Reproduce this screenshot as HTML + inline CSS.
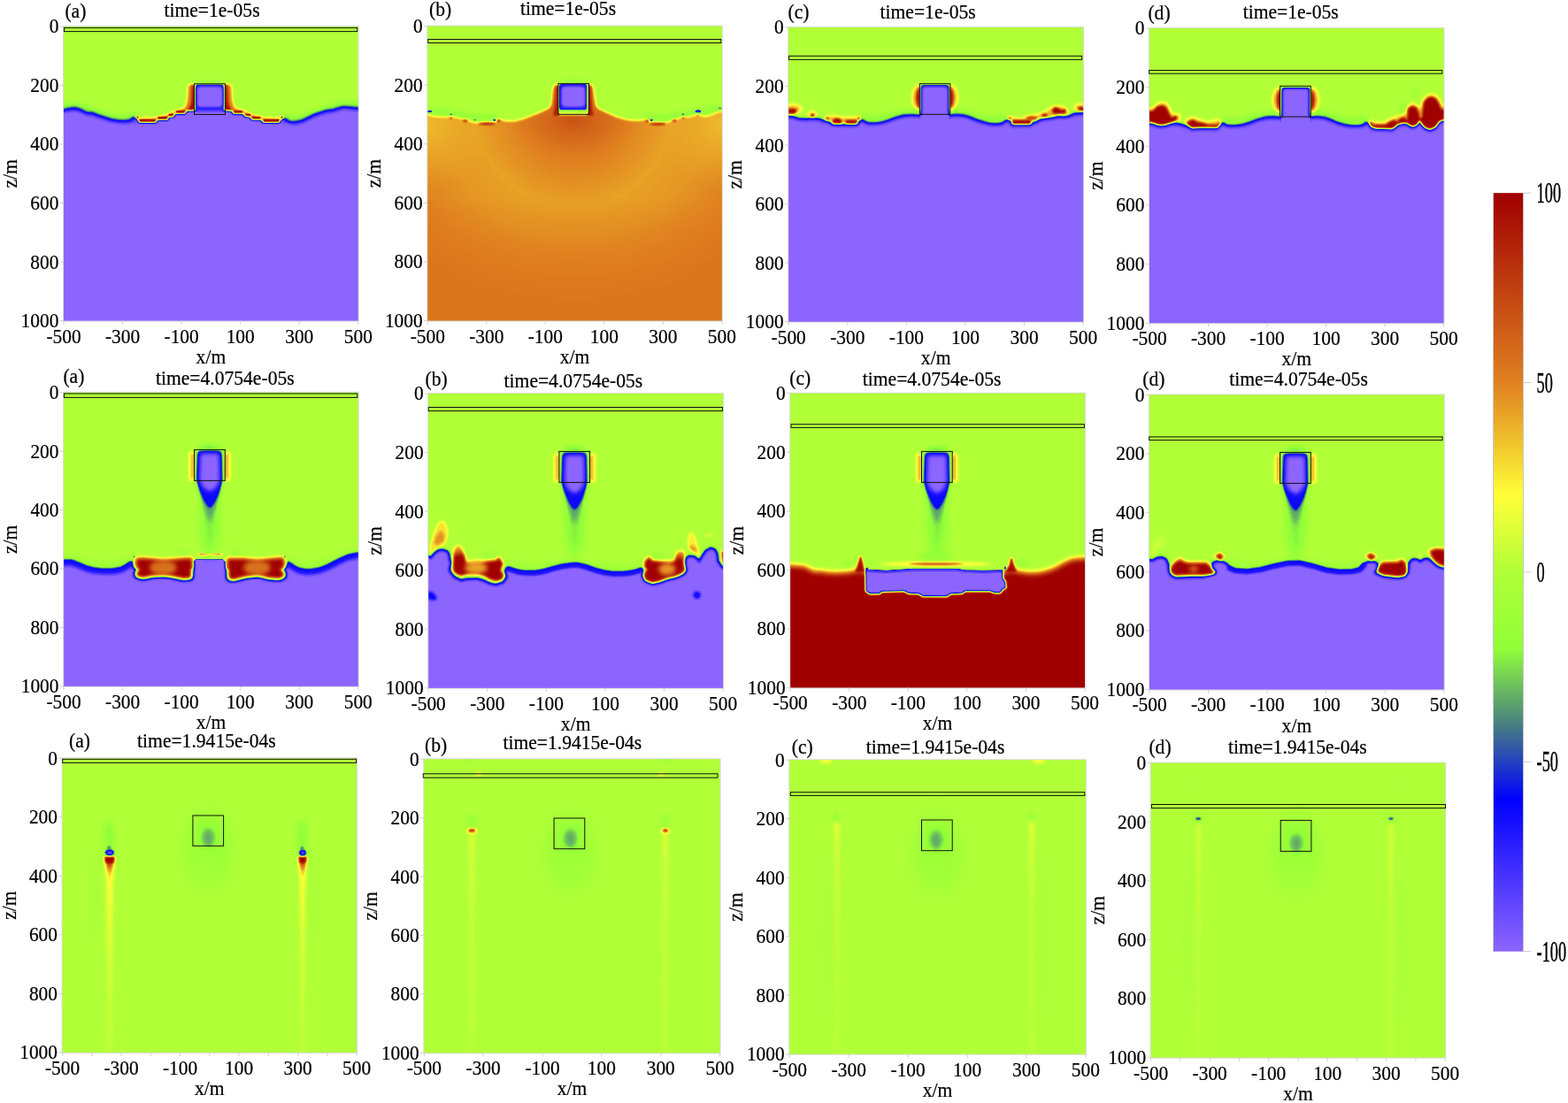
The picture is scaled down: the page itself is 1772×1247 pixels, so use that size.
<!DOCTYPE html>
<html lang="en"><head><meta charset="utf-8"><title>Figure</title>
<style>html,body{margin:0;padding:0;background:#fff;overflow:hidden}svg{display:block}text{font-family:"Liberation Serif",serif;fill:#000;stroke:#000;stroke-width:0.22px}.t{font-size:21.4px}.h{font-size:21.6px}.c{font-size:33px;stroke:#000;stroke-width:0.5px}</style></head><body>
<svg width="1772" height="1247" viewBox="0 0 1772 1247" role="img" aria-label="Twelve panel field snapshots with colour bar">
<defs>
<filter id="cm" filterUnits="userSpaceOnUse" x="0" y="0" width="1772" height="1247" color-interpolation-filters="sRGB"><feComponentTransfer><feFuncR type="table" tableValues="0.5529 0.4147 0.2765 0.1382 0.0000 0.1412 0.2824 0.4235 0.5647 0.6275 0.6902 0.8451 1.0000 0.9595 0.9190 0.8784 0.8282 0.7780 0.7278 0.6776 0.6275"/><feFuncG type="table" tableValues="0.3961 0.2971 0.1980 0.0990 0.0000 0.2510 0.5020 0.7510 1.0000 1.0000 1.0000 1.0000 1.0000 0.8340 0.6680 0.5020 0.4016 0.3012 0.2008 0.1004 0.0000"/><feFuncB type="table" tableValues="1.0000 1.0000 1.0000 1.0000 1.0000 0.7510 0.5020 0.3608 0.2196 0.2196 0.2196 0.2196 0.2196 0.1882 0.1569 0.1255 0.1004 0.0753 0.0502 0.0251 0.0000"/></feComponentTransfer></filter>
<filter id="bl28" filterUnits="userSpaceOnUse" x="-2000" y="-2000" width="12000" height="12000" color-interpolation-filters="sRGB"><feGaussianBlur stdDeviation="28"/></filter><filter id="bl8" filterUnits="userSpaceOnUse" x="-2000" y="-2000" width="12000" height="12000" color-interpolation-filters="sRGB"><feGaussianBlur stdDeviation="8"/></filter><filter id="bl16" filterUnits="userSpaceOnUse" x="-2000" y="-2000" width="12000" height="12000" color-interpolation-filters="sRGB"><feGaussianBlur stdDeviation="16"/></filter><filter id="bl10" filterUnits="userSpaceOnUse" x="-2000" y="-2000" width="12000" height="12000" color-interpolation-filters="sRGB"><feGaussianBlur stdDeviation="10"/></filter><filter id="bl18" filterUnits="userSpaceOnUse" x="-2000" y="-2000" width="12000" height="12000" color-interpolation-filters="sRGB"><feGaussianBlur stdDeviation="18"/></filter><filter id="bl7" filterUnits="userSpaceOnUse" x="-2000" y="-2000" width="12000" height="12000" color-interpolation-filters="sRGB"><feGaussianBlur stdDeviation="7"/></filter><filter id="bl12" filterUnits="userSpaceOnUse" x="-2000" y="-2000" width="12000" height="12000" color-interpolation-filters="sRGB"><feGaussianBlur stdDeviation="12"/></filter><filter id="bl4" filterUnits="userSpaceOnUse" x="-2000" y="-2000" width="12000" height="12000" color-interpolation-filters="sRGB"><feGaussianBlur stdDeviation="4"/></filter><filter id="bl6" filterUnits="userSpaceOnUse" x="-2000" y="-2000" width="12000" height="12000" color-interpolation-filters="sRGB"><feGaussianBlur stdDeviation="6"/></filter><filter id="bl11" filterUnits="userSpaceOnUse" x="-2000" y="-2000" width="12000" height="12000" color-interpolation-filters="sRGB"><feGaussianBlur stdDeviation="11"/></filter><filter id="bl9" filterUnits="userSpaceOnUse" x="-2000" y="-2000" width="12000" height="12000" color-interpolation-filters="sRGB"><feGaussianBlur stdDeviation="9"/></filter><filter id="bl26" filterUnits="userSpaceOnUse" x="-2000" y="-2000" width="12000" height="12000" color-interpolation-filters="sRGB"><feGaussianBlur stdDeviation="26"/></filter><filter id="bl15" filterUnits="userSpaceOnUse" x="-2000" y="-2000" width="12000" height="12000" color-interpolation-filters="sRGB"><feGaussianBlur stdDeviation="15"/></filter><filter id="bl13" filterUnits="userSpaceOnUse" x="-2000" y="-2000" width="12000" height="12000" color-interpolation-filters="sRGB"><feGaussianBlur stdDeviation="13"/></filter><filter id="bl20" filterUnits="userSpaceOnUse" x="-2000" y="-2000" width="12000" height="12000" color-interpolation-filters="sRGB"><feGaussianBlur stdDeviation="20"/></filter><filter id="bl14" filterUnits="userSpaceOnUse" x="-2000" y="-2000" width="12000" height="12000" color-interpolation-filters="sRGB"><feGaussianBlur stdDeviation="14"/></filter><filter id="bl5" filterUnits="userSpaceOnUse" x="-2000" y="-2000" width="12000" height="12000" color-interpolation-filters="sRGB"><feGaussianBlur stdDeviation="5"/></filter><filter id="bl30" filterUnits="userSpaceOnUse" x="-2000" y="-2000" width="12000" height="12000" color-interpolation-filters="sRGB"><feGaussianBlur stdDeviation="30"/></filter><filter id="bl19" filterUnits="userSpaceOnUse" x="-2000" y="-2000" width="12000" height="12000" color-interpolation-filters="sRGB"><feGaussianBlur stdDeviation="19"/></filter><filter id="bl40" filterUnits="userSpaceOnUse" x="-2000" y="-2000" width="12000" height="12000" color-interpolation-filters="sRGB"><feGaussianBlur stdDeviation="40"/></filter><filter id="bl22" filterUnits="userSpaceOnUse" x="-2000" y="-2000" width="12000" height="12000" color-interpolation-filters="sRGB"><feGaussianBlur stdDeviation="22"/></filter><filter id="bl17" filterUnits="userSpaceOnUse" x="-2000" y="-2000" width="12000" height="12000" color-interpolation-filters="sRGB"><feGaussianBlur stdDeviation="17"/></filter><filter id="bl24" filterUnits="userSpaceOnUse" x="-2000" y="-2000" width="12000" height="12000" color-interpolation-filters="sRGB"><feGaussianBlur stdDeviation="24"/></filter><filter id="bl3_2" filterUnits="userSpaceOnUse" x="-2000" y="-2000" width="12000" height="12000" color-interpolation-filters="sRGB"><feGaussianBlur stdDeviation="3.2"/></filter><filter id="bl3_5" filterUnits="userSpaceOnUse" x="-2000" y="-2000" width="12000" height="12000" color-interpolation-filters="sRGB"><feGaussianBlur stdDeviation="3.5"/></filter><filter id="bl2_1" filterUnits="userSpaceOnUse" x="-2000" y="-2000" width="12000" height="12000" color-interpolation-filters="sRGB"><feGaussianBlur stdDeviation="2.1"/></filter><filter id="bl1_3" filterUnits="userSpaceOnUse" x="-2000" y="-2000" width="12000" height="12000" color-interpolation-filters="sRGB"><feGaussianBlur stdDeviation="1.3"/></filter><filter id="bl1_0" filterUnits="userSpaceOnUse" x="-2000" y="-2000" width="12000" height="12000" color-interpolation-filters="sRGB"><feGaussianBlur stdDeviation="1.0"/></filter><filter id="bl1_2" filterUnits="userSpaceOnUse" x="-2000" y="-2000" width="12000" height="12000" color-interpolation-filters="sRGB"><feGaussianBlur stdDeviation="1.2"/></filter><filter id="bl2_5" filterUnits="userSpaceOnUse" x="-2000" y="-2000" width="12000" height="12000" color-interpolation-filters="sRGB"><feGaussianBlur stdDeviation="2.5"/></filter><filter id="bl1_6" filterUnits="userSpaceOnUse" x="-2000" y="-2000" width="12000" height="12000" color-interpolation-filters="sRGB"><feGaussianBlur stdDeviation="1.6"/></filter><filter id="bl2_4" filterUnits="userSpaceOnUse" x="-2000" y="-2000" width="12000" height="12000" color-interpolation-filters="sRGB"><feGaussianBlur stdDeviation="2.4"/></filter><filter id="bl1_7" filterUnits="userSpaceOnUse" x="-2000" y="-2000" width="12000" height="12000" color-interpolation-filters="sRGB"><feGaussianBlur stdDeviation="1.7"/></filter><filter id="bl2_2" filterUnits="userSpaceOnUse" x="-2000" y="-2000" width="12000" height="12000" color-interpolation-filters="sRGB"><feGaussianBlur stdDeviation="2.2"/></filter><filter id="bl2_6" filterUnits="userSpaceOnUse" x="-2000" y="-2000" width="12000" height="12000" color-interpolation-filters="sRGB"><feGaussianBlur stdDeviation="2.6"/></filter><filter id="bl3" filterUnits="userSpaceOnUse" x="-2000" y="-2000" width="12000" height="12000" color-interpolation-filters="sRGB"><feGaussianBlur stdDeviation="3"/></filter><filter id="bl0_8" filterUnits="userSpaceOnUse" x="-2000" y="-2000" width="12000" height="12000" color-interpolation-filters="sRGB"><feGaussianBlur stdDeviation="0.8"/></filter>
<linearGradient id="cb" x1="0" y1="0" x2="0" y2="1"><stop offset="0.000" stop-color="#a00000"/> <stop offset="0.250" stop-color="#e08020"/> <stop offset="0.400" stop-color="#ffff38"/> <stop offset="0.500" stop-color="#b0ff38"/> <stop offset="0.600" stop-color="#90ff38"/> <stop offset="0.700" stop-color="#488080"/> <stop offset="0.800" stop-color="#0000ff"/> <stop offset="1.000" stop-color="#8d65ff"/></linearGradient>
<clipPath id="cpa1"><rect x="72" y="30" width="332.8" height="332.65"/></clipPath>
<clipPath id="cpb1"><rect x="483.3" y="29.6" width="332.55" height="333"/></clipPath>
<clipPath id="cpc1"><rect x="891.2" y="31" width="332.9" height="332.75"/></clipPath>
<clipPath id="cpd1"><rect x="1299" y="32" width="332.55" height="333.25"/></clipPath>
<clipPath id="cpa2"><rect x="72.1" y="443.7" width="332.65" height="332.2"/></clipPath>
<clipPath id="cpb2"><rect x="484.2" y="445" width="332.9" height="332.85"/></clipPath>
<clipPath id="cpc2"><rect x="893.2" y="444.7" width="332.8" height="332.75"/></clipPath>
<clipPath id="cpd2"><rect x="1299" y="446.4" width="332.8" height="333.15"/></clipPath>
<clipPath id="cpa3"><rect x="70.6" y="857.3" width="332.45" height="332.6"/></clipPath>
<clipPath id="cpb3"><rect x="479.3" y="858.3" width="334.3" height="332.05"/></clipPath>
<clipPath id="cpc3"><rect x="892.3" y="859.2" width="334.6" height="332.5"/></clipPath>
<clipPath id="cpd3"><rect x="1300.7" y="862.6" width="332.45" height="333.05"/></clipPath>
</defs>
<rect width="1772" height="1247" fill="#fff"/>
<g filter="url(#cm)">
<g clip-path="url(#cpa1)">
<rect x="70" y="28" width="336.8" height="336.65" fill="#808080"/>
<g transform="translate(60 80) scale(0.101581)">
<g filter="url(#bl28)">
<path d="M60 420 L240 395 L420 450 L640 520 L820 540 L920 500" fill="none" stroke="#616161" stroke-width="80"/>
<path d="M2560 520 L2700 555 L2860 500 L3060 425 L3240 380 L3440 395" fill="none" stroke="#616161" stroke-width="80"/>
<ellipse cx="1742" cy="120" rx="120" ry="22" fill="#6e6e6e"/>
</g>
<g filter="url(#bl8)">
<path d="M60 474 L120 471 L180 456 L240 446 L300 466 L370 501 L430 503 L500 531 L560 551 L640 576 L720 589 L800 593 L860 584 L900 560 L915 534" fill="none" transform="translate(0 -8)" stroke="#2b2b2b" stroke-width="72" stroke-linejoin="round"/>
<path d="M2563 560 L2590 582 L2623 601 L2693 606 L2773 589 L2853 551 L2913 521 L2973 501 L3053 476 L3113 471 L3173 451 L3233 436 L3293 441 L3393 451 L3450 454" fill="none" transform="translate(0 -8)" stroke="#2b2b2b" stroke-width="72" stroke-linejoin="round"/>
</g>
<g filter="url(#bl16)">
<path transform="translate(0 -14)" d="M0 480 L120 476 L180 462 L240 453 L300 472 L370 506 L430 509 L500 536 L560 556 L640 581 L720 594 L800 598 L860 590 L930 568 V2900 H0Z" fill="#000000"/>
<path transform="translate(0 -14)" d="M2550 568 L2623 604 L2693 610 L2773 594 L2853 556 L2913 526 L2973 506 L3053 481 L3113 476 L3173 456 L3233 441 L3293 446 L3393 456 L3460 458 V2900 H2550Z" fill="#000000"/>
</g>
<rect x="0" y="650" width="3500" height="2300" fill="#000000"/>
<g filter="url(#bl10)"><rect x="870" y="600" width="110" height="120" fill="#000000"/><rect x="2500" y="600" width="110" height="120" fill="#000000"/></g>
<g filter="url(#bl18)">
<path d="M925 525 L960 528 L1150 522 L1280 484 L1360 448 L1465 410 L1492 330 L1502 160 L1570 150 L1570 600 L925 600Z" fill="#c2c2c2"/>
<path d="M2558 525 L2520 528 L2335 522 L2205 484 L2125 448 L2020 410 L1993 330 L1983 160 L1914 150 L1914 600 L2558 600Z" fill="#c2c2c2"/>
</g>
<g filter="url(#bl7)">
<circle cx="937" cy="517" r="12" fill="#ffffff"/>
<rect x="960" y="540" width="182" height="45" fill="#ffffff"/>
<rect x="1165" y="510" width="108" height="45" fill="#ffffff"/>
<rect x="1288" y="478" width="54" height="42" fill="#ffffff"/>
<rect x="1370" y="443" width="100" height="42" fill="#ffffff"/>
<circle cx="2546" cy="517" r="12" fill="#ffffff"/>
<rect x="2341" y="540" width="174" height="45" fill="#ffffff"/>
<rect x="2211" y="510" width="94" height="45" fill="#ffffff"/>
<rect x="2142" y="478" width="52" height="42" fill="#ffffff"/>
<rect x="2013" y="443" width="92" height="42" fill="#ffffff"/>
</g>
<g filter="url(#bl12)">
<path d="M1492 452 L1500 425 Q1536 400 1540 330 L1546 160 L1574 150 V452Z" fill="#ffffff"/>
<path d="M1991 452 L1983 425 Q1947 400 1943 330 L1937 160 L1910 150 V452Z" fill="#ffffff"/>
</g>
<rect x="1576" y="146" width="332" height="320" fill="#737373" filter="url(#bl4)"/>
<rect x="1586" y="153" width="310" height="300" rx="34" fill="#292929" filter="url(#bl6)"/>
<rect x="1602" y="176" width="280" height="228" rx="40" fill="#000000" filter="url(#bl11)"/>
<path filter="url(#bl9)" d="M905 522 L940 547 L955 577 L1145 577 L1160 547 L1275 547 L1290 513 L1341 513 L1357 477 L1469 477 L1491 443 L1570 443 L1913 443 L1983 443 L2003 477 L2113 477 L2133 510 L2188 510 L2208 543 L2313 543 L2333 577 L2518 577 L2533 548 L2575 524 V2900 H905Z" fill="#000000"/>
</g>
</g>
<g clip-path="url(#cpb1)">
<rect x="481.3" y="27.6" width="336.55" height="337" fill="#808080"/>
<g transform="translate(470 80) scale(0.101581)">
<defs>
<path id="b1p" d="M0 485 L130 490 L200 510 L300 520 L380 512 L450 522 L520 537 L600 562 L640 577 L700 580 L800 574 L890 574 L920 542 L950 547 L1000 562 L1100 562 L1200 537 L1300 497 L1400 457 L1476 422 L1508 380 L1524 200 L1550 156 L1578 146 L1578 492 L1926 492 L1926 146 L1954 156 L1974 200 L1998 380 L2025 422 L2123 467 L2223 512 L2323 542 L2423 557 L2523 552 L2553 542 L2573 552 L2603 577 L2673 582 L2773 577 L2823 572 L2853 547 L2923 532 L2973 517 L3053 512 L3123 492 L3173 502 L3233 512 L3293 492 L3353 462 L3403 452 L3460 450 V2900 H0 Z"/>
<radialGradient id="b1g1" gradientUnits="userSpaceOnUse" cx="1752" cy="540" r="440" gradientTransform="translate(1752 540) scale(1.6 1) translate(-1752 -540)">
<stop offset="0" stop-color="#dbdbdb" stop-opacity="0.85"/><stop offset="0.4" stop-color="#d6d6d6" stop-opacity="0.45"/><stop offset="1" stop-color="#cccccc" stop-opacity="0"/>
</radialGradient>
<radialGradient id="b1g2" gradientUnits="userSpaceOnUse" cx="1752" cy="400" r="2300">
<stop offset="0.18" stop-color="#b5b5b5" stop-opacity="0"/><stop offset="0.48" stop-color="#b5b5b5" stop-opacity="1"/><stop offset="0.64" stop-color="#b6b6b6" stop-opacity="0.85"/><stop offset="1" stop-color="#b8b8b8" stop-opacity="0"/>
</radialGradient>
<radialGradient id="b1g3" gradientUnits="userSpaceOnUse" cx="130" cy="620" r="700">
<stop offset="0" stop-color="#adadad"/><stop offset="1" stop-color="#b2b2b2" stop-opacity="0"/>
</radialGradient>
<radialGradient id="b1g4" gradientUnits="userSpaceOnUse" cx="3404" cy="620" r="700">
<stop offset="0" stop-color="#adadad"/><stop offset="1" stop-color="#b2b2b2" stop-opacity="0"/>
</radialGradient>
<linearGradient id="b1g5" gradientUnits="userSpaceOnUse" x1="0" y1="1400" x2="0" y2="2786">
<stop offset="0" stop-color="#c4c4c4" stop-opacity="0"/><stop offset="1" stop-color="#c4c4c4" stop-opacity="0.9"/>
</linearGradient>
</defs>
<g filter="url(#bl26)">
<path d="M130 440 L400 470 L650 520 L900 520" fill="none" stroke="#666666" stroke-width="60"/>
<path d="M2560 520 L2800 520 L3100 460 L3404 410" fill="none" stroke="#666666" stroke-width="60"/>
<ellipse cx="1752" cy="122" rx="140" ry="22" fill="#666666"/>
</g>
<g filter="url(#bl15)">
<use href="#b1p" fill="#c3c3c3"/>
<use href="#b1p" fill="url(#b1g2)"/>
<use href="#b1p" fill="url(#b1g5)"/>
<use href="#b1p" fill="url(#b1g3)"/>
<use href="#b1p" fill="url(#b1g4)"/>
<use href="#b1p" fill="url(#b1g1)"/>
</g>
<g filter="url(#bl9)">
<path d="M1556 175 L1596 160 V500 H1530 Q1548 400 1552 300Z" fill="#f2f2f2"/>
<path d="M1948 175 L1908 160 V500 H1974 Q1956 400 1952 300Z" fill="#f2f2f2"/>
</g>
<g filter="url(#bl9)">
<ellipse cx="390" cy="527" rx="16" ry="10" fill="#e3e3e3"/>
<ellipse cx="550" cy="556" rx="26" ry="13" fill="#f0f0f0"/>
<ellipse cx="920" cy="556" rx="16" ry="14" fill="#f0f0f0"/>
<ellipse cx="790" cy="590" rx="95" ry="11" fill="#fafafa"/>
<ellipse cx="2573" cy="557" rx="16" ry="16" fill="#f2f2f2"/>
<ellipse cx="2690" cy="592" rx="85" ry="11" fill="#fafafa"/>
<ellipse cx="2875" cy="556" rx="22" ry="13" fill="#e6e6e6"/>
<ellipse cx="2973" cy="527" rx="16" ry="10" fill="#e0e0e0"/>
<ellipse cx="3138" cy="497" rx="14" ry="10" fill="#d9d9d9"/>
</g>
<g filter="url(#bl7)">
<ellipse cx="150" cy="451" rx="32" ry="11" fill="#262626"/>
<ellipse cx="390" cy="485" rx="12" ry="8" fill="#393939"/>
<ellipse cx="655" cy="548" rx="12" ry="8" fill="#404040"/>
<ellipse cx="875" cy="548" rx="16" ry="10" fill="#2b2b2b"/>
<ellipse cx="2620" cy="548" rx="17" ry="10" fill="#2b2b2b"/>
<ellipse cx="2973" cy="485" rx="12" ry="8" fill="#393939"/>
<ellipse cx="3140" cy="451" rx="32" ry="15" fill="#242424"/>
<ellipse cx="3385" cy="416" rx="22" ry="7" fill="#464646"/>
</g>
<rect x="1586" y="146" width="332" height="318" fill="#707070" filter="url(#bl4)"/>
<rect x="1586" y="454" width="332" height="22" fill="#919191" filter="url(#bl8)"/>
<rect x="1596" y="146" width="306" height="290" rx="36" fill="#262626" filter="url(#bl6)"/>
<rect x="1620" y="174" width="262" height="228" rx="44" fill="#000000" filter="url(#bl13)"/>
</g>
</g>
<g clip-path="url(#cpc1)">
<rect x="889.2" y="29" width="336.9" height="336.75" fill="#808080"/>
<g transform="translate(880 80) scale(0.101581)">
<defs>
<path id="c1l" d="M0 505 L110 508 L160 513 L220 533 L300 538 L380 533 L450 538 L500 558 L560 573 L590 593 L650 601 L740 598 L800 603 L870 601 L900 573 L925 548 L950 568 L1000 583 L1080 585 L1160 573 L1240 548 L1320 518 L1400 498 L1480 493 L1580 498"/>
<path id="c1r" d="M1895 498 L1973 491 L2053 498 L2123 518 L2193 548 L2273 573 L2353 591 L2433 593 L2493 583 L2533 558 L2553 548 L2573 580 L2593 603 L2803 603 L2823 583 L2873 568 L2913 543 L2973 533 L3053 523 L3113 508 L3173 513 L3233 503 L3293 478 L3388 473 L3460 470"/>
</defs>
<g filter="url(#bl26)">
<path d="M930 520 L1100 540 L1300 490 L1560 450" fill="none" stroke="#636363" stroke-width="60"/>
<path d="M1915 450 L2100 480 L2300 540 L2530 520" fill="none" stroke="#636363" stroke-width="60"/>
</g>
<g filter="url(#bl20)">
<ellipse cx="160" cy="425" rx="95" ry="50" fill="#b0b0b0"/>
<ellipse cx="375" cy="482" rx="55" ry="26" fill="#adadad"/>
<path d="M520 520 L600 500 L700 520 L880 520 L900 600 L520 600Z" fill="#b2b2b2"/>
<path d="M1568 148 C1462 200 1462 400 1568 450Z" fill="#b8b8b8"/>
<path d="M1906 148 C2012 200 2012 400 1906 450Z" fill="#b8b8b8"/>
<path d="M2560 520 L2700 535 L2780 500 L2880 490 L2960 460 L3040 400 L3150 390 L3220 450 L3220 520 L2560 620Z" fill="#b2b2b2"/>
<ellipse cx="3350" cy="405" rx="65" ry="35" fill="#b0b0b0"/>
</g>
<g filter="url(#bl8)">
<use href="#c1l" transform="translate(0 22)" fill="none" stroke="#2b2b2b" stroke-width="70" stroke-linejoin="round"/>
<use href="#c1r" transform="translate(0 22)" fill="none" stroke="#2b2b2b" stroke-width="70" stroke-linejoin="round"/>
</g>
<g filter="url(#bl14)">
<path transform="translate(0 -11)" d="M0 535 L110 538 L160 543 L220 563 L300 568 L380 563 L450 568 L500 588 L560 603 L590 623 L650 631 L740 628 L800 633 L870 631 L900 603 L925 578 L950 598 L1000 613 L1080 615 L1160 603 L1240 578 L1320 548 L1400 528 L1480 523 L1580 528 L1895 528 L1973 521 L2053 528 L2123 548 L2193 578 L2273 603 L2353 621 L2433 623 L2493 613 L2533 588 L2553 578 L2573 610 L2593 633 L2803 633 L2823 613 L2873 598 L2913 573 L2973 563 L3053 553 L3113 538 L3173 543 L3233 533 L3293 508 L3388 503 L3460 500 V2900 H0Z" fill="#000000"/>
</g>
<rect x="0" y="680" width="3500" height="2300" fill="#000000"/>
<g filter="url(#bl8)">
<path d="M100 425 L150 418 L195 428 L200 455 L170 478 L100 480Z" fill="#fcfcfc"/>
<ellipse cx="375" cy="497" rx="24" ry="16" fill="#fafafa"/>
<circle cx="540" cy="530" r="15" fill="#fcfcfc"/>
<path d="M605 545 L650 528 L695 545 L700 585 L600 585Z" fill="#ffffff"/>
<rect x="745" y="550" width="128" height="36" rx="8" fill="#ffffff"/>
<circle cx="893" cy="528" r="15" fill="#fcfcfc"/>
<path d="M1570 170 C1520 225 1520 375 1570 428Z" fill="#ffffff"/>
<path d="M1904 170 C1954 225 1954 375 1904 428Z" fill="#ffffff"/>
<circle cx="2568" cy="528" r="15" fill="#fcfcfc"/>
<rect x="2600" y="550" width="205" height="40" rx="8" fill="#ffffff"/>
<ellipse cx="2813" cy="524" rx="60" ry="18" fill="#dedede"/>
<ellipse cx="2958" cy="494" rx="32" ry="16" fill="#f5f5f5"/>
<path d="M3040 440 L3075 405 L3120 420 L3150 440 L3185 420 L3195 470 L3060 478Z" fill="#ffffff"/>
<path d="M3325 415 L3360 400 L3410 410 L3410 445 L3340 440Z" fill="#fafafa"/>
</g>
<rect x="1572" y="150" width="330" height="300" fill="#707070" filter="url(#bl4)"/>
<path d="M1570 540 L1581 430 V190 Q1581 160 1611 160 H1865 Q1895 160 1895 190 V430 L1906 540Z" fill="#292929" filter="url(#bl5)"/>
<path d="M1588 600 L1598 440 V212 Q1598 179 1631 179 H1845 Q1878 179 1878 212 V440 L1888 600Z" fill="#000000" filter="url(#bl9)"/>
<rect id="c1fix" x="1574" y="498" width="326" height="130" fill="#000000" filter="url(#bl5)"/>
</g>
</g>
<g clip-path="url(#cpd1)">
<rect x="1297" y="30" width="336.55" height="337.25" fill="#808080"/>
<g transform="translate(1288 80) scale(0.101581)">
<defs>
<path id="d1l" d="M0 568 L108 570 L150 580 L200 600 L250 605 L300 595 L360 575 L420 575 L480 590 L540 610 L580 635 L620 630 L680 628 L760 628 L860 630 L890 600 L925 570 L950 590 L1000 598 L1080 598 L1160 585 L1240 560 L1320 530 L1400 510 L1480 505 L1575 510"/>
<path id="d1r" d="M1890 505 L1973 500 L2053 510 L2123 535 L2193 565 L2273 588 L2353 600 L2433 600 L2493 590 L2523 565 L2543 580 L2573 620 L2623 635 L2773 640 L2803 645 L2843 620 L2873 590 L2933 575 L2973 580 L3013 610 L3053 615 L3093 590 L3113 545 L3133 585 L3173 630 L3233 650 L3293 620 L3333 560 L3385 535 L3460 530"/>
</defs>
<g filter="url(#bl26)">
<path d="M930 540 L1100 560 L1300 510 L1560 470" fill="none" stroke="#636363" stroke-width="60"/>
<path d="M1915 470 L2100 500 L2300 560 L2530 540" fill="none" stroke="#636363" stroke-width="60"/>
<ellipse cx="2930" cy="420" rx="40" ry="60" fill="#6b6b6b"/>
<ellipse cx="3060" cy="240" rx="40" ry="60" fill="#707070"/>
</g>
<g filter="url(#bl20)">
<path d="M90 425 L160 410 L200 370 L250 345 L305 370 L340 440 L365 490 L440 480 L450 560 L90 580Z" fill="#b5b5b5"/>
<path d="M505 560 L560 525 L610 520 L650 545 L760 570 L900 545 L900 640 L505 640Z" fill="#b5b5b5"/>
<path d="M1564 172 C1456 225 1456 425 1564 478Z" fill="#b8b8b8"/>
<path d="M1906 172 C2014 225 2014 425 1906 478Z" fill="#b8b8b8"/>
<path d="M2548 545 L2600 575 L2720 580 L2780 545 L2900 500 L2960 480 L2980 400 L3030 365 L3085 385 L3120 440 L3150 330 L3200 275 L3245 262 L3300 280 L3340 340 L3360 390 L3420 400 V660 H2548Z" fill="#b8b8b8"/>
</g>
<g filter="url(#bl8)">
<use href="#d1l" transform="translate(0 35)" fill="none" stroke="#2b2b2b" stroke-width="70" stroke-linejoin="round"/>
<use href="#d1r" transform="translate(0 35)" fill="none" stroke="#2b2b2b" stroke-width="70" stroke-linejoin="round"/>
</g>
<g filter="url(#bl14)">
<path transform="translate(0 32)" d="M0 568 L108 570 L150 580 L200 600 L250 605 L300 595 L360 575 L420 575 L480 590 L540 610 L580 635 L620 630 L680 628 L760 628 L860 630 L890 600 L925 570 L950 590 L1000 598 L1080 598 L1160 585 L1240 560 L1320 530 L1400 510 L1480 505 L1575 510 L1890 505 L1973 500 L2053 510 L2123 535 L2193 565 L2273 588 L2353 600 L2433 600 L2493 590 L2523 565 L2543 580 L2573 620 L2623 635 L2773 640 L2803 645 L2843 620 L2873 590 L2933 575 L2973 580 L3013 610 L3053 615 L3093 590 L3113 545 L3133 585 L3173 630 L3233 650 L3293 620 L3333 560 L3385 535 L3460 530 V2900 H0Z" fill="#000000"/>
</g>
<rect x="0" y="730" width="3500" height="2300" fill="#000000"/>
<g filter="url(#bl8)">
<path d="M90 450 L150 445 L190 400 L250 385 L295 405 L320 460 L350 520 L395 505 L418 515 L408 545 L370 565 L300 590 L250 600 L200 595 L150 575 L90 565Z" fill="#ffffff"/>
<path d="M525 578 L565 552 L600 548 L640 572 L700 582 L760 600 L860 600 L885 572 L898 585 L870 628 L760 626 L680 626 L620 628 L585 632 L545 605Z" fill="#ffffff"/>
<path d="M1566 196 C1516 250 1516 400 1566 454Z" fill="#ffffff"/>
<path d="M1904 196 C1954 250 1954 400 1904 454Z" fill="#ffffff"/>
<path d="M2553 572 L2575 570 L2600 600 L2740 600 L2775 570 L2833 550 L2860 570 L2900 530 L2950 520 L2975 560 L2985 420 L3030 392 L3080 410 L3105 470 L3113 530 L3140 520 L3160 350 L3205 300 L3245 290 L3295 310 L3330 370 L3350 420 L3420 440 V530 L3335 560 L3295 620 L3233 648 L3173 628 L3135 585 L3113 548 L3093 590 L3053 613 L3013 608 L2973 578 L2933 575 L2873 590 L2843 620 L2803 643 L2773 638 L2623 633 L2573 618Z" fill="#ffffff"/>
</g>
<rect x="1568" y="177" width="334" height="300" fill="#707070" filter="url(#bl4)"/>
<path d="M1566 570 L1578 460 V216 Q1578 186 1608 186 H1862 Q1892 186 1892 216 V460 L1904 570Z" fill="#292929" filter="url(#bl5)"/>
<path d="M1585 630 L1596 470 V238 Q1596 205 1629 205 H1842 Q1875 205 1875 238 V470 L1886 630Z" fill="#000000" filter="url(#bl9)"/>
<rect id="d1fix" x="1570" y="524" width="330" height="130" fill="#000000" filter="url(#bl5)"/>
</g>
</g>
<g clip-path="url(#cpa2)">
<rect x="70.1" y="441.7" width="336.65" height="336.2" fill="#808080"/>
<g transform="translate(60 600) scale(0.101581)">
<g filter="url(#bl30)">
<path d="M120 300 L400 370 L700 390 L880 320" fill="none" stroke="#6e6e6e" stroke-width="60"/>
<path d="M2600 320 L2800 400 L3100 350 L3400 220" fill="none" stroke="#6e6e6e" stroke-width="60"/>
<ellipse cx="1450" cy="245" rx="60" ry="18" fill="#636363"/>
<ellipse cx="2040" cy="245" rx="60" ry="18" fill="#636363"/>
</g>
<g filter="url(#bl12)" transform="translate(0 -6)">
<path d="M0 370 L120 370 L200 370 L280 400 L360 435 L440 455 L520 465 L600 467 L680 465 L760 450 L820 420 L860 392 L900 380" fill="none" stroke="#2b2b2b" stroke-width="92" stroke-linejoin="round"/>
<path d="M2590 380 L2633 405 L2673 435 L2733 460 L2813 475 L2893 470 L2973 455 L3053 425 L3133 385 L3213 345 L3293 310 L3393 290 L3460 288" fill="none" stroke="#2b2b2b" stroke-width="92" stroke-linejoin="round"/>
</g>
<g filter="url(#bl18)" transform="translate(0 16)">
<path d="M0 372 L120 372 L200 372 L280 402 L360 437 L440 457 L520 467 L600 469 L680 467 L760 452 L820 422 L860 395 L900 400 L960 420 V2900 H0Z" fill="#000000"/>
<path d="M2540 420 L2590 400 L2603 390 L2640 410 L2680 437 L2733 462 L2813 477 L2893 472 L2973 457 L3053 427 L3133 387 L3213 347 L3293 312 L3393 292 L3460 290 V2900 H2540Z" fill="#000000"/>
</g>
<path d="M900 2900 V420 H1552 V348 L1582 320 H1892 L1922 348 V420 H2600 V2900Z" fill="#000000" filter="url(#bl7)"/>
<rect x="0" y="600" width="3500" height="2400" fill="#000000"/>
<g filter="url(#bl20)">
<path d="M915 298 L1000 295 L1230 318 L1450 298 L1552 296 V420 H915Z" fill="#ababab"/>
<path d="M1932 298 L2123 300 L2273 320 L2393 305 L2570 290 V420 H1932Z" fill="#ababab"/>
</g>
<g filter="url(#bl19)">
<path d="M925 314 L1000 310 L1120 320 L1230 340 L1340 324 L1450 312 L1545 310 L1548 420 L1545 535 L1450 545 L1350 522 L1230 497 L1100 512 L1000 535 L925 515 L910 470 L955 425 L922 385Z" fill="#ffffff"/>
<path d="M1940 314 L2123 314 L2273 340 L2393 320 L2553 304 L2568 330 L2573 390 L2532 425 L2578 460 L2583 510 L2523 545 L2393 535 L2273 497 L2123 525 L2003 555 L1943 540Z" fill="#ffffff"/>
</g>
<g filter="url(#bl28)">
<ellipse cx="1225" cy="412" rx="150" ry="85" fill="#c7c7c7"/>
<ellipse cx="2268" cy="412" rx="150" ry="85" fill="#c7c7c7"/>
</g>
<ellipse cx="1745" cy="262" rx="155" ry="17" fill="#a6a6a6" filter="url(#bl9)"/>
<ellipse cx="1745" cy="262" rx="125" ry="7" fill="#cccccc" filter="url(#bl5)"/>
<g filter="url(#bl6)">
<ellipse cx="900" cy="290" rx="9" ry="12" fill="#464646"/>
<ellipse cx="2578" cy="290" rx="9" ry="12" fill="#4c4c4c"/>
</g>
</g>
<g transform="translate(177 490) scale(0.120240)">
<ellipse cx="500" cy="128" rx="105" ry="26" fill="#5e5e5e" filter="url(#bl18)"/>
<ellipse cx="500" cy="820" rx="95" ry="330" fill="#636363" filter="url(#bl40)"/>
<g filter="url(#bl14)">
<rect x="302" y="170" width="52" height="275" rx="20" fill="#a1a1a1"/>
<rect x="643" y="170" width="52" height="275" rx="20" fill="#a1a1a1"/>
</g>
<g filter="url(#bl7)">
<rect x="332" y="195" width="22" height="225" rx="10" fill="#b8b8b8"/>
<rect x="643" y="195" width="22" height="225" rx="10" fill="#b8b8b8"/>
</g>
<rect x="358" y="158" width="282" height="282" fill="#757575" filter="url(#bl4)"/>
<path d="M383 195 Q383 163 420 163 H578 Q612 163 612 195 L618 440 Q604 570 562 680 Q522 800 500 840 Q478 800 436 680 Q394 570 374 440Z" fill="#545454" filter="url(#bl22)"/>
<path d="M386 195 Q386 166 420 166 H578 Q609 166 609 195 L614 440 Q600 540 560 620 Q525 690 500 700 Q475 690 440 620 Q400 540 378 440Z" fill="#2e2e2e" filter="url(#bl10)"/>
<path d="M412 220 Q412 192 440 192 H558 Q586 192 586 220 L590 440 Q570 520 500 545 Q430 520 406 440Z" fill="#000000" filter="url(#bl16)"/>
</g>
</g>
<g clip-path="url(#cpb2)">
<rect x="482.2" y="443" width="336.9" height="336.85" fill="#808080"/>
<g transform="translate(472 580) scale(0.101581)">
<defs>
<path id="b2p" d="M0 500 L120 500 L150 520 L190 465 L235 430 L280 425 L320 440 L335 470 L340 520 L355 550 L340 610 L340 650 L400 725 L480 765 L560 750 L660 745 L740 770 L800 800 L870 815 L960 785 L1010 710 L990 650 L1000 635 L1040 650 L1120 675 L1200 685 L1300 685 L1400 670 L1500 640 L1600 615 L1700 600 L1773 595 L1873 620 L1973 655 L2073 680 L2173 695 L2273 695 L2373 685 L2453 665 L2488 650 L2483 700 L2513 765 L2613 810 L2703 790 L2783 760 L2883 735 L2973 695 L3008 640 L2993 570 L2998 515 L3023 495 L3073 500 L3103 525 L3135 560 L3183 480 L3218 430 L3263 405 L3298 420 L3318 460 L3325 540 L3373 610 L3398 625 L3460 640 V4200 H0Z"/>
</defs>
<g filter="url(#bl30)">
<path d="M1000 560 L1300 620 L1700 540 L2100 610 L2450 610" fill="none" stroke="#6e6e6e" stroke-width="60"/>
<ellipse cx="810" cy="465" rx="70" ry="18" fill="#636363"/>
<ellipse cx="2660" cy="465" rx="70" ry="18" fill="#636363"/>
</g>
<g filter="url(#bl16)">
<path d="M290 85 L330 160 L335 260 L300 350 L205 410 L150 480 L132 400 L155 300 L192 180 L235 100Z" fill="#a1a1a1"/>
<path d="M3050 200 L3090 280 L3120 380 L3140 470 L3135 530 L3090 450 L3020 400 L3000 330 L3020 240Z" fill="#9e9e9e"/>
<ellipse cx="3245" cy="245" rx="50" ry="10" fill="#949494"/>
<path d="M400 440 L430 370 L470 365 L520 440 L540 530 L760 520 L880 510 L905 470 L930 520 V600 H400Z" fill="#a6a6a6"/>
<path d="M2520 520 L2578 470 L2610 520 L2700 530 L2850 520 L2890 440 L2930 420 L2965 450 L2970 600 H2520Z" fill="#a6a6a6"/>
</g>
<g filter="url(#bl14)">
<path d="M260 190 L300 250 L290 320 L220 360 L180 340 L200 260Z" fill="#bababa"/>
<path d="M3040 350 L3090 380 L3115 440 L3060 420 L3025 390Z" fill="#bababa"/>
</g>
<use href="#b2p" fill="none" stroke="#2b2b2b" stroke-width="62" stroke-linejoin="round" filter="url(#bl9)"/>
<use href="#b2p" fill="#000000" filter="url(#bl13)"/>
<path transform="translate(0 -20)" d="M1010 640 L1040 650 L1120 675 L1200 685 L1300 685 L1400 670 L1500 640 L1600 615 L1700 600 L1773 595 L1873 620 L1973 655 L2073 680 L2173 695 L2273 695 L2373 685 L2453 665 L2480 652" fill="none" stroke="#2b2b2b" stroke-width="58" stroke-linecap="round" filter="url(#bl13)"/>
<rect x="0" y="860" width="3500" height="3400" fill="#000000"/>
<g filter="url(#bl17)">
<path d="M395 640 L395 560 L405 470 L430 420 L470 415 L515 470 L540 560 L600 575 L700 565 L765 545 L880 530 L905 495 L925 535 L952 562 L930 610 L925 640 L958 690 L938 738 L870 758 L800 735 L740 700 L660 672 L560 678 L480 700 L420 672Z" fill="#ffffff"/>
<path d="M2530 545 L2578 495 L2603 535 L2700 545 L2800 560 L2860 540 L2890 470 L2925 450 L2955 480 L2958 560 L2975 630 L2950 665 L2880 700 L2780 722 L2700 752 L2613 775 L2540 748 L2515 700 L2530 650 L2555 630 L2525 600Z" fill="#ffffff"/>
<path d="M3380 430 L3420 420 V560 H3395Z" fill="#fafafa"/>
</g>
<g filter="url(#bl26)">
<ellipse cx="650" cy="612" rx="125" ry="72" fill="#b5b5b5"/>
<ellipse cx="450" cy="420" rx="40" ry="40" fill="#bfbfbf"/>
<ellipse cx="2775" cy="625" rx="95" ry="70" fill="#b8b8b8"/>
<ellipse cx="2925" cy="465" rx="35" ry="40" fill="#bfbfbf"/>
</g>
<g filter="url(#bl14)">
<path d="M110 870 L170 880 L215 940 L200 975 L110 960Z" fill="#303030"/>
<circle cx="3108" cy="912" r="42" fill="#2e2e2e"/>
</g>
<circle cx="3108" cy="912" r="14" fill="#4a4a4a" filter="url(#bl9)"/>
</g>
<g transform="translate(589.28 492.02) scale(0.120240)">
<ellipse cx="500" cy="128" rx="105" ry="26" fill="#5e5e5e" filter="url(#bl18)"/>
<ellipse cx="500" cy="820" rx="95" ry="330" fill="#636363" filter="url(#bl40)"/>
<g filter="url(#bl14)">
<rect x="302" y="170" width="52" height="275" rx="20" fill="#a1a1a1"/>
<rect x="643" y="170" width="52" height="275" rx="20" fill="#a1a1a1"/>
</g>
<g filter="url(#bl7)">
<rect x="332" y="195" width="22" height="225" rx="10" fill="#b8b8b8"/>
<rect x="643" y="195" width="22" height="225" rx="10" fill="#b8b8b8"/>
</g>
<rect x="358" y="158" width="282" height="282" fill="#757575" filter="url(#bl4)"/>
<path d="M383 195 Q383 163 420 163 H578 Q612 163 612 195 L618 440 Q604 570 562 680 Q522 800 500 840 Q478 800 436 680 Q394 570 374 440Z" fill="#545454" filter="url(#bl22)"/>
<path d="M386 195 Q386 166 420 166 H578 Q609 166 609 195 L614 440 Q600 540 560 620 Q525 690 500 700 Q475 690 440 620 Q400 540 378 440Z" fill="#2e2e2e" filter="url(#bl10)"/>
<path d="M412 220 Q412 192 440 192 H558 Q586 192 586 220 L590 440 Q570 520 500 545 Q430 520 406 440Z" fill="#000000" filter="url(#bl16)"/>
</g>
</g>
<g clip-path="url(#cpc2)">
<rect x="891.2" y="442.7" width="336.8" height="336.75" fill="#808080"/>
<g transform="translate(880 590) scale(0.101581)">
<g filter="url(#bl28)">
<ellipse cx="760" cy="462" rx="70" ry="18" fill="#666666"/>
<ellipse cx="2723" cy="462" rx="70" ry="18" fill="#666666"/>
<ellipse cx="1745" cy="380" rx="200" ry="60" fill="#6e6e6e"/>
</g>
<ellipse cx="1750" cy="468" rx="620" ry="26" fill="#9c9c9c" filter="url(#bl16)"/>
<ellipse cx="1750" cy="468" rx="300" ry="15" fill="#d4d4d4" filter="url(#bl9)"/>
<path filter="url(#bl30)" transform="translate(0 6)" d="M0 480 L130 481 L200 486 L280 491 L340 521 L390 551 L460 546 L540 561 L640 566 L740 561 L820 551 L880 530 L950 540 L1010 600 L1010 720 L2455 720 L2455 600 L2515 540 L2590 530 L2673 551 L2773 566 L2873 566 L2973 546 L3073 511 L3173 451 L3273 411 L3408 401 L3460 400 V4200 H0Z" fill="#ffffff"/>
<rect x="0" y="700" width="3500" height="3500" fill="#ffffff"/>
<g filter="url(#bl10)">
<path d="M850 560 L880 470 L905 385 L918 385 L935 450 L955 560Z" fill="#fafafa"/>
<path d="M2520 560 L2565 480 L2583 400 L2596 400 L2615 470 L2650 560Z" fill="#fafafa"/>
</g>
<path filter="url(#bl5)" d="M965 532 L1000 540 L1200 550 L1500 530 L1973 530 L2073 545 L2273 550 L2495 545" fill="none" stroke="#2b2b2b" stroke-width="22"/>
<path filter="url(#bl8)" d="M965 538 L1000 545 L1200 555 L1500 535 L1973 535 L2073 550 L2273 555 L2495 548 L2498 630 L2523 660 L2533 735 L2503 750 L2463 795 L2403 795 L2353 775 L2073 775 L2043 800 L1913 805 L1873 835 L1600 832 L1560 805 L1440 800 L1400 775 L1150 780 L1120 805 L1010 805 L965 770Z" fill="#000000"/>
<g filter="url(#bl6)">
<path d="M965 528 L985 500 L1005 530Z" fill="#383838"/>
<path d="M2500 528 L2518 488 L2545 530Z" fill="#3d3d3d"/>
</g>
</g>
<g transform="translate(998.88 492.02) scale(0.120240)">
<ellipse cx="500" cy="128" rx="105" ry="26" fill="#5e5e5e" filter="url(#bl18)"/>
<ellipse cx="500" cy="820" rx="95" ry="330" fill="#636363" filter="url(#bl40)"/>
<g filter="url(#bl14)">
<rect x="302" y="170" width="52" height="275" rx="20" fill="#a1a1a1"/>
<rect x="643" y="170" width="52" height="275" rx="20" fill="#a1a1a1"/>
</g>
<g filter="url(#bl7)">
<rect x="332" y="195" width="22" height="225" rx="10" fill="#b8b8b8"/>
<rect x="643" y="195" width="22" height="225" rx="10" fill="#b8b8b8"/>
</g>
<rect x="358" y="158" width="282" height="282" fill="#757575" filter="url(#bl4)"/>
<path d="M383 195 Q383 163 420 163 H578 Q612 163 612 195 L618 440 Q604 570 562 680 Q522 800 500 840 Q478 800 436 680 Q394 570 374 440Z" fill="#545454" filter="url(#bl22)"/>
<path d="M386 195 Q386 166 420 166 H578 Q609 166 609 195 L614 440 Q600 540 560 620 Q525 690 500 700 Q475 690 440 620 Q400 540 378 440Z" fill="#2e2e2e" filter="url(#bl10)"/>
<path d="M412 220 Q412 192 440 192 H558 Q586 192 586 220 L590 440 Q570 520 500 545 Q430 520 406 440Z" fill="#000000" filter="url(#bl16)"/>
</g>
</g>
<g clip-path="url(#cpd2)">
<rect x="1297" y="444.4" width="336.8" height="337.15" fill="#808080"/>
<g transform="translate(1288 590) scale(0.101581)">
<defs>
<path id="d2p" d="M0 440 L108 440 L150 445 L190 420 L240 410 L280 425 L300 470 L310 560 L340 610 L400 640 L500 635 L600 630 L700 630 L780 610 L850 585 L860 545 L830 510 L825 470 L860 455 L920 460 L960 480 L990 530 L1060 560 L1200 570 L1350 550 L1500 510 L1650 480 L1773 475 L1923 510 L2073 555 L2223 575 L2373 570 L2453 550 L2503 490 L2543 460 L2603 460 L2633 475 L2628 530 L2598 555 L2623 590 L2713 625 L2873 645 L2953 625 L3003 570 L3013 460 L3043 430 L3083 435 L3123 460 L3163 430 L3203 425 L3243 455 L3293 500 L3353 530 L3460 532 V4200 H0Z"/>
</defs>
<g filter="url(#bl30)">
<path d="M1000 450 L1300 510 L1700 420 L2100 500 L2450 490" fill="none" stroke="#6e6e6e" stroke-width="60"/>
<path d="M130 380 L200 250 L260 180" fill="none" stroke="#8a8a8a" stroke-width="80"/>
<ellipse cx="230" cy="375" rx="60" ry="18" fill="#666666"/>
</g>
<g filter="url(#bl16)">
<path d="M345 500 L395 425 L450 390 L505 425 L545 435 L745 435 L790 480 L820 540 V600 H345Z" fill="#a8a8a8"/>
<path d="M820 385 L890 335 L945 385 L900 440Z" fill="#a6a6a6"/>
<path d="M2505 385 L2568 335 L2640 385 L2580 440Z" fill="#a6a6a6"/>
<path d="M2665 480 L2700 435 L2870 430 L2913 400 L2958 440 L2970 600 H2665Z" fill="#a8a8a8"/>
<path d="M3200 330 L3250 290 L3300 280 L3420 290 V500 H3300Z" fill="#a6a6a6"/>
<circle cx="3118" cy="385" r="16" fill="#a3a3a3"/>
</g>
<use href="#d2p" fill="none" stroke="#2b2b2b" stroke-width="62" stroke-linejoin="round" filter="url(#bl9)"/>
<use href="#d2p" fill="#000000" filter="url(#bl13)"/>
<path transform="translate(0 -20)" d="M1000 535 L1060 560 L1200 570 L1350 550 L1500 510 L1650 480 L1773 475 L1923 510 L2073 555 L2223 575 L2373 570 L2453 550 L2495 500" fill="none" stroke="#2b2b2b" stroke-width="58" stroke-linecap="round" filter="url(#bl13)"/>
<rect x="0" y="760" width="3500" height="3500" fill="#000000"/>
<g filter="url(#bl17)">
<path d="M352 505 L400 450 L450 425 L500 452 L540 462 L740 462 L778 495 L808 545 L845 562 L800 582 L700 588 L600 584 L500 588 L400 592 L352 560Z" fill="#ffffff"/>
<path d="M848 380 L890 352 L928 386 L898 428Z" fill="#f7f7f7"/>
<path d="M2528 380 L2568 352 L2625 386 L2575 428Z" fill="#f7f7f7"/>
<path d="M2640 552 L2672 485 L2703 458 L2873 452 L2913 428 L2953 456 L2968 545 L2953 592 L2873 604 L2713 585Z" fill="#ffffff"/>
<path d="M3235 325 L3295 305 L3420 312 V495 L3335 472 L3275 422 L3245 372Z" fill="#ffffff"/>
</g>
<g filter="url(#bl24)">
<ellipse cx="600" cy="525" rx="50" ry="40" fill="#cfcfcf"/>
</g>
</g>
<g transform="translate(1403.98 493.02) scale(0.120240)">
<ellipse cx="500" cy="128" rx="105" ry="26" fill="#5e5e5e" filter="url(#bl18)"/>
<ellipse cx="500" cy="820" rx="95" ry="330" fill="#636363" filter="url(#bl40)"/>
<g filter="url(#bl14)">
<rect x="302" y="170" width="52" height="275" rx="20" fill="#a1a1a1"/>
<rect x="643" y="170" width="52" height="275" rx="20" fill="#a1a1a1"/>
</g>
<g filter="url(#bl7)">
<rect x="332" y="195" width="22" height="225" rx="10" fill="#b8b8b8"/>
<rect x="643" y="195" width="22" height="225" rx="10" fill="#b8b8b8"/>
</g>
<rect x="358" y="158" width="282" height="282" fill="#757575" filter="url(#bl4)"/>
<path d="M383 195 Q383 163 420 163 H578 Q612 163 612 195 L618 440 Q604 570 562 680 Q522 800 500 840 Q478 800 436 680 Q394 570 374 440Z" fill="#545454" filter="url(#bl22)"/>
<path d="M386 195 Q386 166 420 166 H578 Q609 166 609 195 L614 440 Q600 540 560 620 Q525 690 500 700 Q475 690 440 620 Q400 540 378 440Z" fill="#2e2e2e" filter="url(#bl10)"/>
<path d="M412 220 Q412 192 440 192 H558 Q586 192 586 220 L590 440 Q570 520 500 545 Q430 520 406 440Z" fill="#000000" filter="url(#bl16)"/>
</g>
</g>
<g clip-path="url(#cpa3)">
<rect x="68.6" y="855.3" width="336.45" height="336.6" fill="#808080"/>
<g filter="url(#bl9)"><ellipse cx="235.4" cy="952.4" rx="22" ry="34" fill="#696969"/></g>
<g filter="url(#bl10)"><ellipse cx="235.4" cy="976.4" rx="24" ry="28" fill="#737373"/></g>
<g filter="url(#bl3_2)"><ellipse cx="235.4" cy="947.5" rx="7.8" ry="11.2" fill="#555555"/></g>
<g filter="url(#bl3_5)"><ellipse cx="123.3" cy="944.8" rx="4.8" ry="18" fill="#606060"/></g>
<g filter="url(#bl5)"><ellipse cx="106.9" cy="1011.9" rx="3" ry="60" fill="#777777"/></g>
<linearGradient id="a3sl" gradientUnits="userSpaceOnUse" x1="0" y1="969.9" x2="0" y2="1191.0"><stop offset="0.000" stop-color="#ffffff" stop-opacity="1"/><stop offset="0.020" stop-color="#ffffff" stop-opacity="1"/><stop offset="0.045" stop-color="#d4d4d4" stop-opacity="1"/><stop offset="0.070" stop-color="#b2b2b2" stop-opacity="1"/><stop offset="0.100" stop-color="#9f9f9f" stop-opacity="1"/><stop offset="0.160" stop-color="#999999" stop-opacity="1"/><stop offset="0.300" stop-color="#939393" stop-opacity="1"/><stop offset="0.500" stop-color="#8c8c8c" stop-opacity="1"/><stop offset="0.750" stop-color="#878787" stop-opacity="1"/><stop offset="1.000" stop-color="#858585" stop-opacity="1"/></linearGradient><rect x="120.4" y="969.9" width="7.0" height="227.1" fill="url(#a3sl)" filter="url(#bl2_1)"/>
<g filter="url(#bl1_3)"><path d="M117.9 968.7 h12.0 l-1.6 7 h-8.8 Z" fill="#ffffff"/></g>
<g filter="url(#bl1_0)"><ellipse cx="123.9" cy="963.8" rx="5.4" ry="3.6" fill="#292929"/></g>
<g filter="url(#bl1_0)"><ellipse cx="124.2" cy="964.3" rx="2.8" ry="1.7" fill="#0a0a0a"/></g>
<g filter="url(#bl1_2)"><ellipse cx="123.3" cy="958.3" rx="2.4" ry="2" fill="#4a4a4a"/></g>
<g filter="url(#bl3_5)"><ellipse cx="341.4" cy="945.2" rx="4.8" ry="18" fill="#606060"/></g>
<g filter="url(#bl5)"><ellipse cx="354.0" cy="1011.8" rx="3" ry="60" fill="#777777"/></g>
<linearGradient id="a3sr" gradientUnits="userSpaceOnUse" x1="0" y1="969.8" x2="0" y2="1191.0"><stop offset="0.000" stop-color="#ffffff" stop-opacity="1"/><stop offset="0.020" stop-color="#ffffff" stop-opacity="1"/><stop offset="0.045" stop-color="#d4d4d4" stop-opacity="1"/><stop offset="0.070" stop-color="#b2b2b2" stop-opacity="1"/><stop offset="0.100" stop-color="#9f9f9f" stop-opacity="1"/><stop offset="0.160" stop-color="#999999" stop-opacity="1"/><stop offset="0.300" stop-color="#939393" stop-opacity="1"/><stop offset="0.500" stop-color="#8c8c8c" stop-opacity="1"/><stop offset="0.750" stop-color="#878787" stop-opacity="1"/><stop offset="1.000" stop-color="#858585" stop-opacity="1"/></linearGradient><rect x="339.1" y="969.8" width="5.8" height="227.2" fill="url(#a3sr)" filter="url(#bl2_1)"/>
<g filter="url(#bl1_3)"><path d="M337.2 968.6 h9.6 l-1.6 7 h-6.4 Z" fill="#ffffff"/></g>
<g filter="url(#bl1_0)"><ellipse cx="342.0" cy="964.2" rx="4.2" ry="3.6" fill="#292929"/></g>
<g filter="url(#bl1_0)"><ellipse cx="342.3" cy="964.7" rx="1.6" ry="1.7" fill="#0a0a0a"/></g>
<g filter="url(#bl1_2)"><ellipse cx="341.4" cy="958.7" rx="2.4" ry="2" fill="#4a4a4a"/></g>
</g>
<g clip-path="url(#cpb3)">
<rect x="477.3" y="856.3" width="338.3" height="336.05" fill="#808080"/>
<g filter="url(#bl9)"><ellipse cx="643.7" cy="955.7" rx="22" ry="34" fill="#696969"/></g>
<g filter="url(#bl10)"><ellipse cx="643.7" cy="979.7" rx="24" ry="28" fill="#737373"/></g>
<g filter="url(#bl3_2)"><ellipse cx="644.6" cy="948.5" rx="7.8" ry="11.2" fill="#555555"/></g>
<g filter="url(#bl3_5)"><ellipse cx="533.2" cy="928.4" rx="5" ry="7" fill="#696969"/></g>
<g filter="url(#bl2_5)"><ellipse cx="531.9" cy="859.2" rx="5" ry="2" fill="#6b6b6b"/></g>
<g filter="url(#bl1_6)"><ellipse cx="540.9" cy="875.2" rx="3.2" ry="1.8" fill="#9e9e9e"/></g>
<linearGradient id="b3sl" gradientUnits="userSpaceOnUse" x1="0" y1="941.9" x2="0" y2="1191.0"><stop offset="0.000" stop-color="#949494" stop-opacity="1"/><stop offset="0.100" stop-color="#8e8e8e" stop-opacity="1"/><stop offset="0.400" stop-color="#888888" stop-opacity="1"/><stop offset="1.000" stop-color="#838383" stop-opacity="1"/></linearGradient><rect x="530.9" y="941.9" width="4.6" height="255.1" fill="url(#b3sl)" filter="url(#bl2_4)"/>
<g filter="url(#bl1_7)"><ellipse cx="533.2" cy="939.5" rx="6.2" ry="3.0" fill="#a6a6a6"/></g>
<g filter="url(#bl1_0)"><ellipse cx="533.2" cy="938.7" rx="3.4" ry="1.5" fill="#f0f0f0"/></g>
<g filter="url(#bl3_5)"><ellipse cx="752.0" cy="928.4" rx="5" ry="7" fill="#696969"/></g>
<g filter="url(#bl2_5)"><ellipse cx="753.0" cy="859.2" rx="5" ry="2" fill="#6b6b6b"/></g>
<g filter="url(#bl1_6)"><ellipse cx="747.3" cy="875.2" rx="3.2" ry="1.8" fill="#9e9e9e"/></g>
<linearGradient id="b3sr" gradientUnits="userSpaceOnUse" x1="0" y1="941.9" x2="0" y2="1191.0"><stop offset="0.000" stop-color="#949494" stop-opacity="1"/><stop offset="0.100" stop-color="#8e8e8e" stop-opacity="1"/><stop offset="0.400" stop-color="#888888" stop-opacity="1"/><stop offset="1.000" stop-color="#838383" stop-opacity="1"/></linearGradient><rect x="749.7" y="941.9" width="4.6" height="255.1" fill="url(#b3sr)" filter="url(#bl2_4)"/>
<g filter="url(#bl1_7)"><ellipse cx="752.0" cy="939.5" rx="5.4" ry="3.0" fill="#a6a6a6"/></g>
<g filter="url(#bl1_0)"><ellipse cx="752.0" cy="938.7" rx="2.6" ry="1.5" fill="#f0f0f0"/></g>
</g>
<g clip-path="url(#cpc3)">
<rect x="890.3" y="857.2" width="338.6" height="336.5" fill="#808080"/>
<g filter="url(#bl9)"><ellipse cx="1058.9" cy="957.6" rx="22" ry="34" fill="#696969"/></g>
<g filter="url(#bl10)"><ellipse cx="1058.9" cy="981.6" rx="24" ry="28" fill="#737373"/></g>
<g filter="url(#bl3_2)"><ellipse cx="1058.0" cy="950.0" rx="7.8" ry="11.2" fill="#555555"/></g>
<g filter="url(#bl2_2)"><ellipse cx="933.8" cy="860.0" rx="7" ry="1.8" fill="#adadad"/></g>
<g filter="url(#bl2_6)"><ellipse cx="945.3" cy="924.4" rx="3.6" ry="3.6" fill="#666666"/></g>
<linearGradient id="c3sl" gradientUnits="userSpaceOnUse" x1="0" y1="929.9" x2="0" y2="1193.0"><stop offset="0.000" stop-color="#999999" stop-opacity="1"/><stop offset="0.030" stop-color="#959595" stop-opacity="1"/><stop offset="0.100" stop-color="#8e8e8e" stop-opacity="1"/><stop offset="0.400" stop-color="#888888" stop-opacity="1"/><stop offset="1.000" stop-color="#838383" stop-opacity="1"/></linearGradient><rect x="943.5" y="929.9" width="4.6" height="269.1" fill="url(#c3sl)" filter="url(#bl2_4)"/>
<g filter="url(#bl5)"><ellipse cx="933.3" cy="1060.0" rx="3" ry="100" fill="#797979"/></g>
<g filter="url(#bl2_2)"><ellipse cx="1173.8" cy="860.0" rx="7" ry="1.8" fill="#adadad"/></g>
<g filter="url(#bl2_6)"><ellipse cx="1165.5" cy="923.8" rx="3.6" ry="3.6" fill="#666666"/></g>
<linearGradient id="c3sr" gradientUnits="userSpaceOnUse" x1="0" y1="929.3" x2="0" y2="1193.0"><stop offset="0.000" stop-color="#999999" stop-opacity="1"/><stop offset="0.030" stop-color="#959595" stop-opacity="1"/><stop offset="0.100" stop-color="#8e8e8e" stop-opacity="1"/><stop offset="0.400" stop-color="#888888" stop-opacity="1"/><stop offset="1.000" stop-color="#838383" stop-opacity="1"/></linearGradient><rect x="1163.7" y="929.3" width="4.6" height="269.7" fill="url(#c3sr)" filter="url(#bl2_4)"/>
<g filter="url(#bl5)"><ellipse cx="1177.5" cy="1060.0" rx="3" ry="100" fill="#797979"/></g>
</g>
<g clip-path="url(#cpd3)">
<rect x="1298.7" y="860.6" width="336.45" height="337.05" fill="#808080"/>
<g filter="url(#bl9)"><ellipse cx="1464.8" cy="958.4" rx="22" ry="34" fill="#696969"/></g>
<g filter="url(#bl10)"><ellipse cx="1464.8" cy="982.4" rx="24" ry="28" fill="#737373"/></g>
<g filter="url(#bl3_2)"><ellipse cx="1465.0" cy="953.8" rx="7.8" ry="11.2" fill="#555555"/></g>
<g filter="url(#bl3)"><ellipse cx="1354.2" cy="925.6" rx="4.5" ry="3.5" fill="#6b6b6b"/></g>
<g filter="url(#bl0_8)"><ellipse cx="1354.2" cy="925.6" rx="3.3" ry="1.5" fill="#2e2e2e"/></g>
<linearGradient id="d3sl" gradientUnits="userSpaceOnUse" x1="0" y1="931.6" x2="0" y2="1197.0"><stop offset="0.000" stop-color="#8f8f8f" stop-opacity="1"/><stop offset="0.100" stop-color="#8b8b8b" stop-opacity="1"/><stop offset="0.400" stop-color="#878787" stop-opacity="1"/><stop offset="1.000" stop-color="#838383" stop-opacity="1"/></linearGradient><rect x="1352.2" y="931.6" width="4.6" height="271.4" fill="url(#d3sl)" filter="url(#bl2_4)"/>
<g filter="url(#bl5)"><ellipse cx="1341.2" cy="1060.0" rx="3" ry="100" fill="#797979"/></g>
<g filter="url(#bl3)"><ellipse cx="1344.2" cy="886.0" rx="4" ry="3" fill="#787878"/></g>
<g filter="url(#bl3)"><ellipse cx="1571.9" cy="925.6" rx="4.5" ry="3.5" fill="#6b6b6b"/></g>
<g filter="url(#bl0_8)"><ellipse cx="1571.9" cy="925.6" rx="3.3" ry="1.5" fill="#363636"/></g>
<linearGradient id="d3sr" gradientUnits="userSpaceOnUse" x1="0" y1="931.6" x2="0" y2="1197.0"><stop offset="0.000" stop-color="#8f8f8f" stop-opacity="1"/><stop offset="0.100" stop-color="#8b8b8b" stop-opacity="1"/><stop offset="0.400" stop-color="#878787" stop-opacity="1"/><stop offset="1.000" stop-color="#838383" stop-opacity="1"/></linearGradient><rect x="1569.9" y="931.6" width="4.6" height="271.4" fill="url(#d3sr)" filter="url(#bl2_4)"/>
<g filter="url(#bl5)"><ellipse cx="1584.9" cy="1060.0" rx="3" ry="100" fill="#797979"/></g>
<g filter="url(#bl3)"><ellipse cx="1579.9" cy="886.0" rx="4" ry="3" fill="#787878"/></g>
</g>
</g>
<g>
<path d="M71.5 29.5V363.15H405.3V29.5Z" fill="none" stroke="#d9d9d9" stroke-width="1"/>
<path d="M72 362.65v4.2M138.56 362.65v4.2M205.12 362.65v4.2M271.68 362.65v4.2M338.24 362.65v4.2M404.8 362.65v4.2M72 30h-4.2M72 96.53h-4.2M72 163.06h-4.2M72 229.59h-4.2M72 296.12h-4.2M72 362.65h-4.2" fill="none" stroke="#cfcfcf" stroke-width="1"/>
<rect x="72.5" y="31.4" width="331.2" height="4.2" fill="none" stroke="#111" stroke-width="1"/>
<rect x="219.5" y="94.8" width="34.9" height="34.6" fill="none" stroke="#111" stroke-width="1"/>
<text class="t" transform="translate(66.4 37.4) scale(1 1.115)" text-anchor="end">0</text>
<text class="t" transform="translate(66.4 103.93) scale(1 1.115)" text-anchor="end">200</text>
<text class="t" transform="translate(66.4 170.46) scale(1 1.115)" text-anchor="end">400</text>
<text class="t" transform="translate(66.4 236.99) scale(1 1.115)" text-anchor="end">600</text>
<text class="t" transform="translate(66.4 303.52) scale(1 1.115)" text-anchor="end">800</text>
<text class="t" transform="translate(66.4 370.05) scale(1 1.115)" text-anchor="end">1000</text>
<text class="t" transform="translate(72 387.55) scale(1 1.115)" text-anchor="middle">-500</text>
<text class="t" transform="translate(138.56 387.55) scale(1 1.115)" text-anchor="middle">-300</text>
<text class="t" transform="translate(205.12 387.55) scale(1 1.115)" text-anchor="middle">-100</text>
<text class="t" transform="translate(271.68 387.55) scale(1 1.115)" text-anchor="middle">100</text>
<text class="t" transform="translate(338.24 387.55) scale(1 1.115)" text-anchor="middle">300</text>
<text class="t" transform="translate(404.8 387.55) scale(1 1.115)" text-anchor="middle">500</text>
<text class="h" transform="translate(238.4 410.65) scale(1 1.09)" text-anchor="middle">x/m</text>
<text class="h" transform="translate(19 196.32) rotate(-90) scale(1 1.09)" text-anchor="middle">z/m</text>
<text class="h" transform="translate(73.4 20.2) scale(1 1.03)">(a)</text>
<text class="h" transform="translate(239.5 18.5) scale(1 1.03)" text-anchor="middle">time=1e-05s</text>
</g>
<g>
<path d="M482.8 29.1V363.1H816.35V29.1Z" fill="none" stroke="#d9d9d9" stroke-width="1"/>
<path d="M483.3 362.6v4.2M549.81 362.6v4.2M616.32 362.6v4.2M682.83 362.6v4.2M749.34 362.6v4.2M815.85 362.6v4.2M483.3 29.6h-4.2M483.3 96.2h-4.2M483.3 162.8h-4.2M483.3 229.4h-4.2M483.3 296h-4.2M483.3 362.6h-4.2" fill="none" stroke="#cfcfcf" stroke-width="1"/>
<rect x="483.7" y="44.5" width="331.1" height="4" fill="none" stroke="#111" stroke-width="1"/>
<rect x="630.9" y="94.6" width="34.6" height="34.7" fill="none" stroke="#111" stroke-width="1"/>
<text class="t" transform="translate(477.7 37) scale(1 1.115)" text-anchor="end">0</text>
<text class="t" transform="translate(477.7 103.6) scale(1 1.115)" text-anchor="end">200</text>
<text class="t" transform="translate(477.7 170.2) scale(1 1.115)" text-anchor="end">400</text>
<text class="t" transform="translate(477.7 236.8) scale(1 1.115)" text-anchor="end">600</text>
<text class="t" transform="translate(477.7 303.4) scale(1 1.115)" text-anchor="end">800</text>
<text class="t" transform="translate(477.7 370) scale(1 1.115)" text-anchor="end">1000</text>
<text class="t" transform="translate(483.3 387.5) scale(1 1.115)" text-anchor="middle">-500</text>
<text class="t" transform="translate(549.81 387.5) scale(1 1.115)" text-anchor="middle">-300</text>
<text class="t" transform="translate(616.32 387.5) scale(1 1.115)" text-anchor="middle">-100</text>
<text class="t" transform="translate(682.83 387.5) scale(1 1.115)" text-anchor="middle">100</text>
<text class="t" transform="translate(749.34 387.5) scale(1 1.115)" text-anchor="middle">300</text>
<text class="t" transform="translate(815.85 387.5) scale(1 1.115)" text-anchor="middle">500</text>
<text class="h" transform="translate(649.58 410.6) scale(1 1.09)" text-anchor="middle">x/m</text>
<text class="h" transform="translate(430.3 196.1) rotate(-90) scale(1 1.09)" text-anchor="middle">z/m</text>
<text class="h" transform="translate(485 18) scale(1 1.03)">(b)</text>
<text class="h" transform="translate(642 17.3) scale(1 1.03)" text-anchor="middle">time=1e-05s</text>
</g>
<g>
<path d="M890.7 30.5V364.25H1224.6V30.5Z" fill="none" stroke="#d9d9d9" stroke-width="1"/>
<path d="M891.2 363.75v4.2M957.78 363.75v4.2M1024.36 363.75v4.2M1090.94 363.75v4.2M1157.52 363.75v4.2M1224.1 363.75v4.2M891.2 31h-4.2M891.2 97.55h-4.2M891.2 164.1h-4.2M891.2 230.65h-4.2M891.2 297.2h-4.2M891.2 363.75h-4.2" fill="none" stroke="#cfcfcf" stroke-width="1"/>
<rect x="891.6" y="63.3" width="331.1" height="4.1" fill="none" stroke="#111" stroke-width="1"/>
<rect x="1039.3" y="94.7" width="34.5" height="34.6" fill="none" stroke="#111" stroke-width="1"/>
<text class="t" transform="translate(885.6 38.4) scale(1 1.115)" text-anchor="end">0</text>
<text class="t" transform="translate(885.6 104.95) scale(1 1.115)" text-anchor="end">200</text>
<text class="t" transform="translate(885.6 171.5) scale(1 1.115)" text-anchor="end">400</text>
<text class="t" transform="translate(885.6 238.05) scale(1 1.115)" text-anchor="end">600</text>
<text class="t" transform="translate(885.6 304.6) scale(1 1.115)" text-anchor="end">800</text>
<text class="t" transform="translate(885.6 371.15) scale(1 1.115)" text-anchor="end">1000</text>
<text class="t" transform="translate(891.2 388.65) scale(1 1.115)" text-anchor="middle">-500</text>
<text class="t" transform="translate(957.78 388.65) scale(1 1.115)" text-anchor="middle">-300</text>
<text class="t" transform="translate(1024.36 388.65) scale(1 1.115)" text-anchor="middle">-100</text>
<text class="t" transform="translate(1090.94 388.65) scale(1 1.115)" text-anchor="middle">100</text>
<text class="t" transform="translate(1157.52 388.65) scale(1 1.115)" text-anchor="middle">300</text>
<text class="t" transform="translate(1224.1 388.65) scale(1 1.115)" text-anchor="middle">500</text>
<text class="h" transform="translate(1057.65 411.75) scale(1 1.09)" text-anchor="middle">x/m</text>
<text class="h" transform="translate(838.2 197.38) rotate(-90) scale(1 1.09)" text-anchor="middle">z/m</text>
<text class="h" transform="translate(890.6 20.9) scale(1 1.03)">(c)</text>
<text class="h" transform="translate(1048.6 20.9) scale(1 1.03)" text-anchor="middle">time=1e-05s</text>
</g>
<g>
<path d="M1298.5 31.5V365.75H1632.05V31.5Z" fill="none" stroke="#d9d9d9" stroke-width="1"/>
<path d="M1299 365.25v4.2M1365.51 365.25v4.2M1432.02 365.25v4.2M1498.53 365.25v4.2M1565.04 365.25v4.2M1631.55 365.25v4.2M1299 32h-4.2M1299 98.65h-4.2M1299 165.3h-4.2M1299 231.95h-4.2M1299 298.6h-4.2M1299 365.25h-4.2" fill="none" stroke="#cfcfcf" stroke-width="1"/>
<rect x="1298.7" y="79.5" width="331.1" height="3.7" fill="none" stroke="#111" stroke-width="1"/>
<rect x="1446.6" y="97.3" width="34.7" height="34.7" fill="none" stroke="#111" stroke-width="1"/>
<text class="t" transform="translate(1293.4 39.4) scale(1 1.115)" text-anchor="end">0</text>
<text class="t" transform="translate(1293.4 106.05) scale(1 1.115)" text-anchor="end">200</text>
<text class="t" transform="translate(1293.4 172.7) scale(1 1.115)" text-anchor="end">400</text>
<text class="t" transform="translate(1293.4 239.35) scale(1 1.115)" text-anchor="end">600</text>
<text class="t" transform="translate(1293.4 306) scale(1 1.115)" text-anchor="end">800</text>
<text class="t" transform="translate(1293.4 372.65) scale(1 1.115)" text-anchor="end">1000</text>
<text class="t" transform="translate(1299 390.15) scale(1 1.115)" text-anchor="middle">-500</text>
<text class="t" transform="translate(1365.51 390.15) scale(1 1.115)" text-anchor="middle">-300</text>
<text class="t" transform="translate(1432.02 390.15) scale(1 1.115)" text-anchor="middle">-100</text>
<text class="t" transform="translate(1498.53 390.15) scale(1 1.115)" text-anchor="middle">100</text>
<text class="t" transform="translate(1565.04 390.15) scale(1 1.115)" text-anchor="middle">300</text>
<text class="t" transform="translate(1631.55 390.15) scale(1 1.115)" text-anchor="middle">500</text>
<text class="h" transform="translate(1465.28 413.25) scale(1 1.09)" text-anchor="middle">x/m</text>
<text class="h" transform="translate(1246 198.62) rotate(-90) scale(1 1.09)" text-anchor="middle">z/m</text>
<text class="h" transform="translate(1297.4 21.9) scale(1 1.03)">(d)</text>
<text class="h" transform="translate(1458.7 20.9) scale(1 1.03)" text-anchor="middle">time=1e-05s</text>
</g>
<g>
<path d="M71.6 443.2V776.4H405.25V443.2Z" fill="none" stroke="#d9d9d9" stroke-width="1"/>
<path d="M72.1 775.9v4.2M138.63 775.9v4.2M205.16 775.9v4.2M271.69 775.9v4.2M338.22 775.9v4.2M404.75 775.9v4.2M72.1 443.7h-4.2M72.1 510.14h-4.2M72.1 576.58h-4.2M72.1 643.02h-4.2M72.1 709.46h-4.2M72.1 775.9h-4.2" fill="none" stroke="#cfcfcf" stroke-width="1"/>
<rect x="72.4" y="445" width="331.4" height="4.4" fill="none" stroke="#111" stroke-width="1"/>
<rect x="219.6" y="508.4" width="34.7" height="35" fill="none" stroke="#111" stroke-width="1"/>
<text class="t" transform="translate(66.5 451.1) scale(1 1.115)" text-anchor="end">0</text>
<text class="t" transform="translate(66.5 517.54) scale(1 1.115)" text-anchor="end">200</text>
<text class="t" transform="translate(66.5 583.98) scale(1 1.115)" text-anchor="end">400</text>
<text class="t" transform="translate(66.5 650.42) scale(1 1.115)" text-anchor="end">600</text>
<text class="t" transform="translate(66.5 716.86) scale(1 1.115)" text-anchor="end">800</text>
<text class="t" transform="translate(66.5 783.3) scale(1 1.115)" text-anchor="end">1000</text>
<text class="t" transform="translate(72.1 800.8) scale(1 1.115)" text-anchor="middle">-500</text>
<text class="t" transform="translate(138.63 800.8) scale(1 1.115)" text-anchor="middle">-300</text>
<text class="t" transform="translate(205.16 800.8) scale(1 1.115)" text-anchor="middle">-100</text>
<text class="t" transform="translate(271.69 800.8) scale(1 1.115)" text-anchor="middle">100</text>
<text class="t" transform="translate(338.22 800.8) scale(1 1.115)" text-anchor="middle">300</text>
<text class="t" transform="translate(404.75 800.8) scale(1 1.115)" text-anchor="middle">500</text>
<text class="h" transform="translate(238.42 823.9) scale(1 1.09)" text-anchor="middle">x/m</text>
<text class="h" transform="translate(19.1 609.8) rotate(-90) scale(1 1.09)" text-anchor="middle">z/m</text>
<text class="h" transform="translate(71.4 432.9) scale(1 1.03)">(a)</text>
<text class="h" transform="translate(254.3 434.9) scale(1 1.03)" text-anchor="middle">time=4.0754e-05s</text>
</g>
<g>
<path d="M483.7 444.5V778.35H817.6V444.5Z" fill="none" stroke="#d9d9d9" stroke-width="1"/>
<path d="M484.2 777.85v4.2M550.78 777.85v4.2M617.36 777.85v4.2M683.94 777.85v4.2M750.52 777.85v4.2M817.1 777.85v4.2M484.2 445h-4.2M484.2 511.57h-4.2M484.2 578.14h-4.2M484.2 644.71h-4.2M484.2 711.28h-4.2M484.2 777.85h-4.2" fill="none" stroke="#cfcfcf" stroke-width="1"/>
<rect x="484.3" y="460.5" width="332.1" height="4.1" fill="none" stroke="#111" stroke-width="1"/>
<rect x="631.9" y="510.4" width="34.7" height="35" fill="none" stroke="#111" stroke-width="1"/>
<text class="t" transform="translate(478.6 452.4) scale(1 1.115)" text-anchor="end">0</text>
<text class="t" transform="translate(478.6 518.97) scale(1 1.115)" text-anchor="end">200</text>
<text class="t" transform="translate(478.6 585.54) scale(1 1.115)" text-anchor="end">400</text>
<text class="t" transform="translate(478.6 652.11) scale(1 1.115)" text-anchor="end">600</text>
<text class="t" transform="translate(478.6 718.68) scale(1 1.115)" text-anchor="end">800</text>
<text class="t" transform="translate(478.6 785.25) scale(1 1.115)" text-anchor="end">1000</text>
<text class="t" transform="translate(484.2 802.75) scale(1 1.115)" text-anchor="middle">-500</text>
<text class="t" transform="translate(550.78 802.75) scale(1 1.115)" text-anchor="middle">-300</text>
<text class="t" transform="translate(617.36 802.75) scale(1 1.115)" text-anchor="middle">-100</text>
<text class="t" transform="translate(683.94 802.75) scale(1 1.115)" text-anchor="middle">100</text>
<text class="t" transform="translate(750.52 802.75) scale(1 1.115)" text-anchor="middle">300</text>
<text class="t" transform="translate(817.1 802.75) scale(1 1.115)" text-anchor="middle">500</text>
<text class="h" transform="translate(650.65 825.85) scale(1 1.09)" text-anchor="middle">x/m</text>
<text class="h" transform="translate(431.2 611.42) rotate(-90) scale(1 1.09)" text-anchor="middle">z/m</text>
<text class="h" transform="translate(480.6 436.3) scale(1 1.03)">(b)</text>
<text class="h" transform="translate(647.9 437.6) scale(1 1.03)" text-anchor="middle">time=4.0754e-05s</text>
</g>
<g>
<path d="M892.7 444.2V777.95H1226.5V444.2Z" fill="none" stroke="#d9d9d9" stroke-width="1"/>
<path d="M893.2 777.45v4.2M959.76 777.45v4.2M1026.32 777.45v4.2M1092.88 777.45v4.2M1159.44 777.45v4.2M1226 777.45v4.2M893.2 444.7h-4.2M893.2 511.25h-4.2M893.2 577.8h-4.2M893.2 644.35h-4.2M893.2 710.9h-4.2M893.2 777.45h-4.2" fill="none" stroke="#cfcfcf" stroke-width="1"/>
<rect x="894" y="479.7" width="331.4" height="3.7" fill="none" stroke="#111" stroke-width="1"/>
<rect x="1041.5" y="510.4" width="34.7" height="35" fill="none" stroke="#111" stroke-width="1"/>
<text class="t" transform="translate(887.6 452.1) scale(1 1.115)" text-anchor="end">0</text>
<text class="t" transform="translate(887.6 518.65) scale(1 1.115)" text-anchor="end">200</text>
<text class="t" transform="translate(887.6 585.2) scale(1 1.115)" text-anchor="end">400</text>
<text class="t" transform="translate(887.6 651.75) scale(1 1.115)" text-anchor="end">600</text>
<text class="t" transform="translate(887.6 718.3) scale(1 1.115)" text-anchor="end">800</text>
<text class="t" transform="translate(887.6 784.85) scale(1 1.115)" text-anchor="end">1000</text>
<text class="t" transform="translate(893.2 802.35) scale(1 1.115)" text-anchor="middle">-500</text>
<text class="t" transform="translate(959.76 802.35) scale(1 1.115)" text-anchor="middle">-300</text>
<text class="t" transform="translate(1026.32 802.35) scale(1 1.115)" text-anchor="middle">-100</text>
<text class="t" transform="translate(1092.88 802.35) scale(1 1.115)" text-anchor="middle">100</text>
<text class="t" transform="translate(1159.44 802.35) scale(1 1.115)" text-anchor="middle">300</text>
<text class="t" transform="translate(1226 802.35) scale(1 1.115)" text-anchor="middle">500</text>
<text class="h" transform="translate(1059.6 825.45) scale(1 1.09)" text-anchor="middle">x/m</text>
<text class="h" transform="translate(840.2 611.08) rotate(-90) scale(1 1.09)" text-anchor="middle">z/m</text>
<text class="h" transform="translate(892.3 434.9) scale(1 1.03)">(c)</text>
<text class="h" transform="translate(1053.1 436.3) scale(1 1.03)" text-anchor="middle">time=4.0754e-05s</text>
</g>
<g>
<path d="M1298.5 445.9V780.05H1632.3V445.9Z" fill="none" stroke="#d9d9d9" stroke-width="1"/>
<path d="M1299 779.55v4.2M1365.56 779.55v4.2M1432.12 779.55v4.2M1498.68 779.55v4.2M1565.24 779.55v4.2M1631.8 779.55v4.2M1299 446.4h-4.2M1299 513.03h-4.2M1299 579.66h-4.2M1299 646.29h-4.2M1299 712.92h-4.2M1299 779.55h-4.2" fill="none" stroke="#cfcfcf" stroke-width="1"/>
<rect x="1298.7" y="493.9" width="331.4" height="3.7" fill="none" stroke="#111" stroke-width="1"/>
<rect x="1446.6" y="511.4" width="34.7" height="35" fill="none" stroke="#111" stroke-width="1"/>
<text class="t" transform="translate(1293.4 453.8) scale(1 1.115)" text-anchor="end">0</text>
<text class="t" transform="translate(1293.4 520.43) scale(1 1.115)" text-anchor="end">200</text>
<text class="t" transform="translate(1293.4 587.06) scale(1 1.115)" text-anchor="end">400</text>
<text class="t" transform="translate(1293.4 653.69) scale(1 1.115)" text-anchor="end">600</text>
<text class="t" transform="translate(1293.4 720.32) scale(1 1.115)" text-anchor="end">800</text>
<text class="t" transform="translate(1293.4 786.95) scale(1 1.115)" text-anchor="end">1000</text>
<text class="t" transform="translate(1299 804.45) scale(1 1.115)" text-anchor="middle">-500</text>
<text class="t" transform="translate(1365.56 804.45) scale(1 1.115)" text-anchor="middle">-300</text>
<text class="t" transform="translate(1432.12 804.45) scale(1 1.115)" text-anchor="middle">-100</text>
<text class="t" transform="translate(1498.68 804.45) scale(1 1.115)" text-anchor="middle">100</text>
<text class="t" transform="translate(1565.24 804.45) scale(1 1.115)" text-anchor="middle">300</text>
<text class="t" transform="translate(1631.8 804.45) scale(1 1.115)" text-anchor="middle">500</text>
<text class="h" transform="translate(1465.4 827.55) scale(1 1.09)" text-anchor="middle">x/m</text>
<text class="h" transform="translate(1246 612.97) rotate(-90) scale(1 1.09)" text-anchor="middle">z/m</text>
<text class="h" transform="translate(1291.3 435.6) scale(1 1.03)">(d)</text>
<text class="h" transform="translate(1467.5 435.6) scale(1 1.03)" text-anchor="middle">time=4.0754e-05s</text>
</g>
<g>
<path d="M70.1 856.8V1190.4H403.55V856.8Z" fill="none" stroke="#d9d9d9" stroke-width="1"/>
<path d="M70.6 1189.9v4.2M103.84 1189.9v4.2M137.09 1189.9v4.2M170.34 1189.9v4.2M203.58 1189.9v4.2M236.83 1189.9v4.2M270.07 1189.9v4.2M303.32 1189.9v4.2M336.56 1189.9v4.2M369.81 1189.9v4.2M403.05 1189.9v4.2M70.6 857.3h-4.2M70.6 923.82h-4.2M70.6 990.34h-4.2M70.6 1056.86h-4.2M70.6 1123.38h-4.2M70.6 1189.9h-4.2" fill="none" stroke="#cfcfcf" stroke-width="1"/>
<rect x="70.7" y="858.3" width="331.8" height="4.1" fill="none" stroke="#111" stroke-width="1"/>
<rect x="217.9" y="922" width="34.7" height="34.3" fill="none" stroke="#111" stroke-width="1"/>
<text class="t" transform="translate(65 864.7) scale(1 1.115)" text-anchor="end">0</text>
<text class="t" transform="translate(65 931.22) scale(1 1.115)" text-anchor="end">200</text>
<text class="t" transform="translate(65 997.74) scale(1 1.115)" text-anchor="end">400</text>
<text class="t" transform="translate(65 1064.26) scale(1 1.115)" text-anchor="end">600</text>
<text class="t" transform="translate(65 1130.78) scale(1 1.115)" text-anchor="end">800</text>
<text class="t" transform="translate(65 1197.3) scale(1 1.115)" text-anchor="end">1000</text>
<text class="t" transform="translate(70.6 1214.8) scale(1 1.115)" text-anchor="middle">-500</text>
<text class="t" transform="translate(137.09 1214.8) scale(1 1.115)" text-anchor="middle">-300</text>
<text class="t" transform="translate(203.58 1214.8) scale(1 1.115)" text-anchor="middle">-100</text>
<text class="t" transform="translate(270.07 1214.8) scale(1 1.115)" text-anchor="middle">100</text>
<text class="t" transform="translate(336.56 1214.8) scale(1 1.115)" text-anchor="middle">300</text>
<text class="t" transform="translate(403.05 1214.8) scale(1 1.115)" text-anchor="middle">500</text>
<text class="h" transform="translate(236.83 1237.9) scale(1 1.09)" text-anchor="middle">x/m</text>
<text class="h" transform="translate(17.6 1023.6) rotate(-90) scale(1 1.09)" text-anchor="middle">z/m</text>
<text class="h" transform="translate(78.1 844.5) scale(1 1.03)">(a)</text>
<text class="h" transform="translate(233.4 845.2) scale(1 1.03)" text-anchor="middle">time=1.9415e-04s</text>
</g>
<g>
<path d="M478.8 857.8V1190.85H814.1V857.8Z" fill="none" stroke="#d9d9d9" stroke-width="1"/>
<path d="M479.3 1190.35v4.2M546.16 1190.35v4.2M613.02 1190.35v4.2M679.88 1190.35v4.2M746.74 1190.35v4.2M813.6 1190.35v4.2M479.3 858.3h-4.2M479.3 924.71h-4.2M479.3 991.12h-4.2M479.3 1057.53h-4.2M479.3 1123.94h-4.2M479.3 1190.35h-4.2" fill="none" stroke="#cfcfcf" stroke-width="1"/>
<rect x="478.3" y="874.8" width="332.7" height="4.4" fill="none" stroke="#111" stroke-width="1"/>
<rect x="626.1" y="925" width="34.7" height="34.7" fill="none" stroke="#111" stroke-width="1"/>
<text class="t" transform="translate(473.7 865.7) scale(1 1.115)" text-anchor="end">0</text>
<text class="t" transform="translate(473.7 932.11) scale(1 1.115)" text-anchor="end">200</text>
<text class="t" transform="translate(473.7 998.52) scale(1 1.115)" text-anchor="end">400</text>
<text class="t" transform="translate(473.7 1064.93) scale(1 1.115)" text-anchor="end">600</text>
<text class="t" transform="translate(473.7 1131.34) scale(1 1.115)" text-anchor="end">800</text>
<text class="t" transform="translate(473.7 1197.75) scale(1 1.115)" text-anchor="end">1000</text>
<text class="t" transform="translate(479.3 1215.25) scale(1 1.115)" text-anchor="middle">-500</text>
<text class="t" transform="translate(546.16 1215.25) scale(1 1.115)" text-anchor="middle">-300</text>
<text class="t" transform="translate(613.02 1215.25) scale(1 1.115)" text-anchor="middle">-100</text>
<text class="t" transform="translate(679.88 1215.25) scale(1 1.115)" text-anchor="middle">100</text>
<text class="t" transform="translate(746.74 1215.25) scale(1 1.115)" text-anchor="middle">300</text>
<text class="t" transform="translate(813.6 1215.25) scale(1 1.115)" text-anchor="middle">500</text>
<text class="h" transform="translate(646.45 1238.35) scale(1 1.09)" text-anchor="middle">x/m</text>
<text class="h" transform="translate(426.3 1024.32) rotate(-90) scale(1 1.09)" text-anchor="middle">z/m</text>
<text class="h" transform="translate(480 849.9) scale(1 1.03)">(b)</text>
<text class="h" transform="translate(646.8 847.2) scale(1 1.03)" text-anchor="middle">time=1.9415e-04s</text>
</g>
<g>
<path d="M891.8 858.7V1192.2H1227.4V858.7Z" fill="none" stroke="#d9d9d9" stroke-width="1"/>
<path d="M892.3 1191.7v4.2M959.22 1191.7v4.2M1026.14 1191.7v4.2M1093.06 1191.7v4.2M1159.98 1191.7v4.2M1226.9 1191.7v4.2M892.3 859.2h-4.2M892.3 925.7h-4.2M892.3 992.2h-4.2M892.3 1058.7h-4.2M892.3 1125.2h-4.2M892.3 1191.7h-4.2" fill="none" stroke="#cfcfcf" stroke-width="1"/>
<rect x="893.3" y="895.7" width="332.5" height="3.7" fill="none" stroke="#111" stroke-width="1"/>
<rect x="1041.5" y="927" width="34.7" height="34.7" fill="none" stroke="#111" stroke-width="1"/>
<text class="t" transform="translate(886.7 866.6) scale(1 1.115)" text-anchor="end">0</text>
<text class="t" transform="translate(886.7 933.1) scale(1 1.115)" text-anchor="end">200</text>
<text class="t" transform="translate(886.7 999.6) scale(1 1.115)" text-anchor="end">400</text>
<text class="t" transform="translate(886.7 1066.1) scale(1 1.115)" text-anchor="end">600</text>
<text class="t" transform="translate(886.7 1132.6) scale(1 1.115)" text-anchor="end">800</text>
<text class="t" transform="translate(886.7 1199.1) scale(1 1.115)" text-anchor="end">1000</text>
<text class="t" transform="translate(892.3 1216.6) scale(1 1.115)" text-anchor="middle">-500</text>
<text class="t" transform="translate(959.22 1216.6) scale(1 1.115)" text-anchor="middle">-300</text>
<text class="t" transform="translate(1026.14 1216.6) scale(1 1.115)" text-anchor="middle">-100</text>
<text class="t" transform="translate(1093.06 1216.6) scale(1 1.115)" text-anchor="middle">100</text>
<text class="t" transform="translate(1159.98 1216.6) scale(1 1.115)" text-anchor="middle">300</text>
<text class="t" transform="translate(1226.9 1216.6) scale(1 1.115)" text-anchor="middle">500</text>
<text class="h" transform="translate(1059.6 1239.7) scale(1 1.09)" text-anchor="middle">x/m</text>
<text class="h" transform="translate(839.3 1025.45) rotate(-90) scale(1 1.09)" text-anchor="middle">z/m</text>
<text class="h" transform="translate(894.7 852.3) scale(1 1.03)">(c)</text>
<text class="h" transform="translate(1057 851.6) scale(1 1.03)" text-anchor="middle">time=1.9415e-04s</text>
</g>
<g>
<path d="M1300.2 862.1V1196.15H1633.65V862.1Z" fill="none" stroke="#d9d9d9" stroke-width="1"/>
<path d="M1300.7 1195.65v4.2M1333.95 1195.65v4.2M1367.19 1195.65v4.2M1400.43 1195.65v4.2M1433.68 1195.65v4.2M1466.93 1195.65v4.2M1500.17 1195.65v4.2M1533.42 1195.65v4.2M1566.66 1195.65v4.2M1599.91 1195.65v4.2M1633.15 1195.65v4.2M1300.7 862.6h-4.2M1300.7 929.21h-4.2M1300.7 995.82h-4.2M1300.7 1062.43h-4.2M1300.7 1129.04h-4.2M1300.7 1195.65h-4.2" fill="none" stroke="#cfcfcf" stroke-width="1"/>
<rect x="1301.4" y="909.5" width="332.1" height="4.1" fill="none" stroke="#111" stroke-width="1"/>
<rect x="1447.2" y="927.4" width="34.7" height="35" fill="none" stroke="#111" stroke-width="1"/>
<text class="t" transform="translate(1295.1 870) scale(1 1.115)" text-anchor="end">0</text>
<text class="t" transform="translate(1295.1 936.61) scale(1 1.115)" text-anchor="end">200</text>
<text class="t" transform="translate(1295.1 1003.22) scale(1 1.115)" text-anchor="end">400</text>
<text class="t" transform="translate(1295.1 1069.83) scale(1 1.115)" text-anchor="end">600</text>
<text class="t" transform="translate(1295.1 1136.44) scale(1 1.115)" text-anchor="end">800</text>
<text class="t" transform="translate(1295.1 1203.05) scale(1 1.115)" text-anchor="end">1000</text>
<text class="t" transform="translate(1300.7 1220.55) scale(1 1.115)" text-anchor="middle">-500</text>
<text class="t" transform="translate(1367.19 1220.55) scale(1 1.115)" text-anchor="middle">-300</text>
<text class="t" transform="translate(1433.68 1220.55) scale(1 1.115)" text-anchor="middle">-100</text>
<text class="t" transform="translate(1500.17 1220.55) scale(1 1.115)" text-anchor="middle">100</text>
<text class="t" transform="translate(1566.66 1220.55) scale(1 1.115)" text-anchor="middle">300</text>
<text class="t" transform="translate(1633.15 1220.55) scale(1 1.115)" text-anchor="middle">500</text>
<text class="h" transform="translate(1466.93 1243.65) scale(1 1.09)" text-anchor="middle">x/m</text>
<text class="h" transform="translate(1247.7 1029.12) rotate(-90) scale(1 1.09)" text-anchor="middle">z/m</text>
<text class="h" transform="translate(1298.4 852.3) scale(1 1.03)">(d)</text>
<text class="h" transform="translate(1466.4 851.6) scale(1 1.03)" text-anchor="middle">time=1.9415e-04s</text>
</g>
<g>
<rect x="1687.5" y="218.2" width="34.1" height="857.5" fill="url(#cb)"/>
<path d="M1687.5 218.2V1075.7M1721.6 218.2V1075.7" stroke="#c8c8c8" stroke-width="1" fill="none"/>
<text class="c" transform="translate(1736.6 229.2) scale(0.555 1)">100</text>
<text class="c" transform="translate(1736.6 443.57) scale(0.555 1)">50</text>
<text class="c" transform="translate(1736.6 657.95) scale(0.555 1)">0</text>
<text class="c" transform="translate(1736.6 872.33) scale(0.555 1)">-50</text>
<text class="c" transform="translate(1736.6 1086.7) scale(0.555 1)">-100</text>
<path d="M1721.6 218.2h9M1721.6 432.57h9M1721.6 646.95h9M1721.6 861.33h9M1721.6 1075.7h9" stroke="#c8c8c8" stroke-width="1" fill="none"/>
</g>
</svg></body></html>
